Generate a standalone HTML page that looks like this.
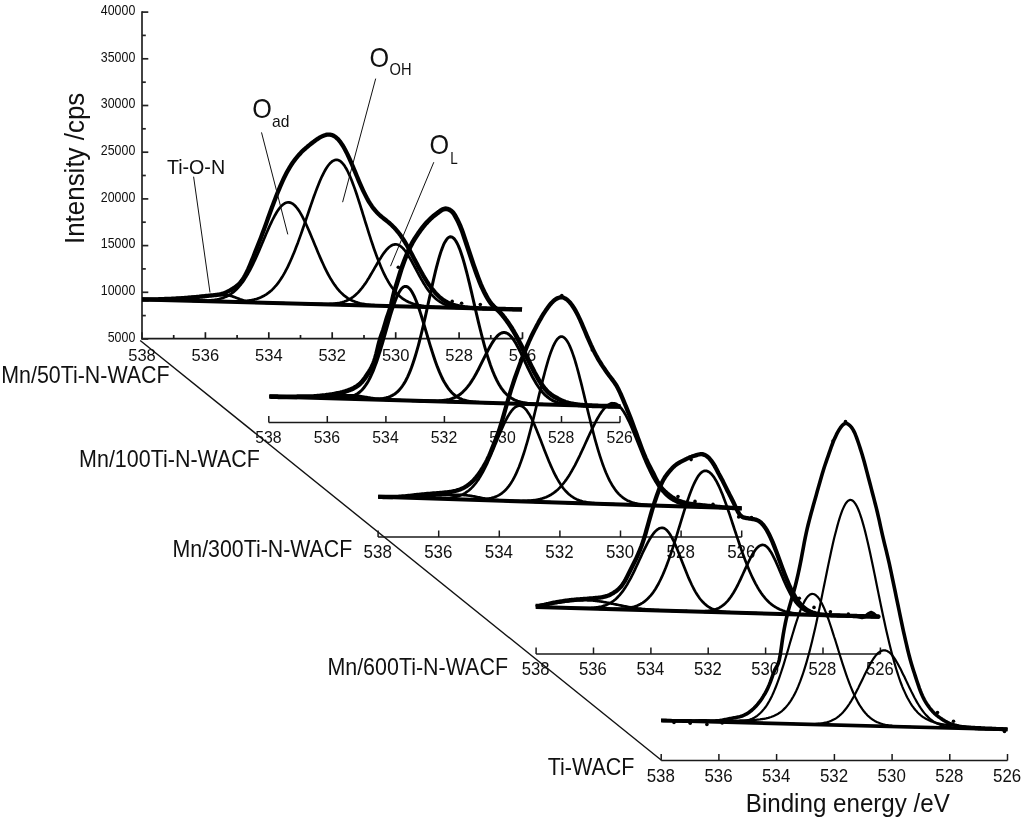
<!DOCTYPE html>
<html><head><meta charset="utf-8"><title>XPS O1s spectra</title>
<style>html,body{margin:0;padding:0;background:#fff}svg{display:block;will-change:transform}</style></head>
<body>
<svg width="1024" height="823" viewBox="0 0 1024 823">
<rect width="1024" height="823" fill="#fff"/>
<line x1="140.2" y1="340.5" x2="661.1" y2="760" stroke="#111" stroke-width="1.4"/>
<g stroke="#1a1a1a" stroke-width="1.70" fill="none">
<line x1="141.2" y1="338.7" x2="522.5" y2="338.7"/>
<line x1="142.0" y1="338.7" x2="142.0" y2="332.2"/>
<line x1="173.7" y1="338.7" x2="173.7" y2="335.0"/>
<line x1="205.4" y1="338.7" x2="205.4" y2="332.2"/>
<line x1="237.1" y1="338.7" x2="237.1" y2="335.0"/>
<line x1="268.8" y1="338.7" x2="268.8" y2="332.2"/>
<line x1="300.5" y1="338.7" x2="300.5" y2="335.0"/>
<line x1="332.2" y1="338.7" x2="332.2" y2="332.2"/>
<line x1="364.0" y1="338.7" x2="364.0" y2="335.0"/>
<line x1="395.7" y1="338.7" x2="395.7" y2="332.2"/>
<line x1="427.4" y1="338.7" x2="427.4" y2="335.0"/>
<line x1="459.1" y1="338.7" x2="459.1" y2="332.2"/>
<line x1="490.8" y1="338.7" x2="490.8" y2="335.0"/>
<line x1="522.5" y1="338.7" x2="522.5" y2="332.2"/>
</g>
<text x="142.0" y="360.5" font-size="17.1" text-anchor="middle" fill="#111" font-family="Liberation Sans, sans-serif" textLength="27.6" lengthAdjust="spacingAndGlyphs" >538</text>
<text x="205.4" y="360.5" font-size="17.1" text-anchor="middle" fill="#111" font-family="Liberation Sans, sans-serif" textLength="27.6" lengthAdjust="spacingAndGlyphs" >536</text>
<text x="268.8" y="360.5" font-size="17.1" text-anchor="middle" fill="#111" font-family="Liberation Sans, sans-serif" textLength="27.6" lengthAdjust="spacingAndGlyphs" >534</text>
<text x="332.2" y="360.5" font-size="17.1" text-anchor="middle" fill="#111" font-family="Liberation Sans, sans-serif" textLength="27.6" lengthAdjust="spacingAndGlyphs" >532</text>
<text x="395.7" y="360.5" font-size="17.1" text-anchor="middle" fill="#111" font-family="Liberation Sans, sans-serif" textLength="27.6" lengthAdjust="spacingAndGlyphs" >530</text>
<text x="459.1" y="360.5" font-size="17.1" text-anchor="middle" fill="#111" font-family="Liberation Sans, sans-serif" textLength="27.6" lengthAdjust="spacingAndGlyphs" >528</text>
<text x="522.5" y="360.5" font-size="17.1" text-anchor="middle" fill="#111" font-family="Liberation Sans, sans-serif" textLength="27.6" lengthAdjust="spacingAndGlyphs" >526</text>
<g stroke="#1a1a1a" stroke-width="1.50" fill="none">
<line x1="268.8" y1="422.5" x2="620.0" y2="422.5"/>
<line x1="268.8" y1="422.5" x2="268.8" y2="416.0"/>
<line x1="327.3" y1="422.5" x2="327.3" y2="416.0"/>
<line x1="385.9" y1="422.5" x2="385.9" y2="416.0"/>
<line x1="444.4" y1="422.5" x2="444.4" y2="416.0"/>
<line x1="502.9" y1="422.5" x2="502.9" y2="416.0"/>
<line x1="561.5" y1="422.5" x2="561.5" y2="416.0"/>
<line x1="620.0" y1="422.5" x2="620.0" y2="416.0"/>
</g>
<text x="268.4" y="442.5" font-size="16.5" text-anchor="middle" fill="#111" font-family="Liberation Sans, sans-serif" textLength="26.4" lengthAdjust="spacingAndGlyphs" >538</text>
<text x="326.9" y="442.5" font-size="16.5" text-anchor="middle" fill="#111" font-family="Liberation Sans, sans-serif" textLength="26.4" lengthAdjust="spacingAndGlyphs" >536</text>
<text x="385.5" y="442.5" font-size="16.5" text-anchor="middle" fill="#111" font-family="Liberation Sans, sans-serif" textLength="26.4" lengthAdjust="spacingAndGlyphs" >534</text>
<text x="444.0" y="442.5" font-size="16.5" text-anchor="middle" fill="#111" font-family="Liberation Sans, sans-serif" textLength="26.4" lengthAdjust="spacingAndGlyphs" >532</text>
<text x="502.5" y="442.5" font-size="16.5" text-anchor="middle" fill="#111" font-family="Liberation Sans, sans-serif" textLength="26.4" lengthAdjust="spacingAndGlyphs" >530</text>
<text x="561.1" y="442.5" font-size="16.5" text-anchor="middle" fill="#111" font-family="Liberation Sans, sans-serif" textLength="26.4" lengthAdjust="spacingAndGlyphs" >528</text>
<text x="619.6" y="442.5" font-size="16.5" text-anchor="middle" fill="#111" font-family="Liberation Sans, sans-serif" textLength="26.4" lengthAdjust="spacingAndGlyphs" >526</text>
<g stroke="#1a1a1a" stroke-width="1.50" fill="none">
<line x1="378.1" y1="537.0" x2="741.7" y2="537.0"/>
<line x1="378.1" y1="537.0" x2="378.1" y2="530.5"/>
<line x1="438.7" y1="537.0" x2="438.7" y2="530.5"/>
<line x1="499.3" y1="537.0" x2="499.3" y2="530.5"/>
<line x1="559.9" y1="537.0" x2="559.9" y2="530.5"/>
<line x1="620.5" y1="537.0" x2="620.5" y2="530.5"/>
<line x1="681.1" y1="537.0" x2="681.1" y2="530.5"/>
<line x1="741.7" y1="537.0" x2="741.7" y2="530.5"/>
</g>
<text x="377.7" y="558.1" font-size="17.7" text-anchor="middle" fill="#111" font-family="Liberation Sans, sans-serif" textLength="28.3" lengthAdjust="spacingAndGlyphs" >538</text>
<text x="438.3" y="558.1" font-size="17.7" text-anchor="middle" fill="#111" font-family="Liberation Sans, sans-serif" textLength="28.3" lengthAdjust="spacingAndGlyphs" >536</text>
<text x="498.9" y="558.1" font-size="17.7" text-anchor="middle" fill="#111" font-family="Liberation Sans, sans-serif" textLength="28.3" lengthAdjust="spacingAndGlyphs" >534</text>
<text x="559.5" y="558.1" font-size="17.7" text-anchor="middle" fill="#111" font-family="Liberation Sans, sans-serif" textLength="28.3" lengthAdjust="spacingAndGlyphs" >532</text>
<text x="620.1" y="558.1" font-size="17.7" text-anchor="middle" fill="#111" font-family="Liberation Sans, sans-serif" textLength="28.3" lengthAdjust="spacingAndGlyphs" >530</text>
<text x="680.7" y="558.1" font-size="17.7" text-anchor="middle" fill="#111" font-family="Liberation Sans, sans-serif" textLength="28.3" lengthAdjust="spacingAndGlyphs" >528</text>
<text x="741.3" y="558.1" font-size="17.7" text-anchor="middle" fill="#111" font-family="Liberation Sans, sans-serif" textLength="28.3" lengthAdjust="spacingAndGlyphs" >526</text>
<g stroke="#1a1a1a" stroke-width="1.50" fill="none">
<line x1="536.1" y1="654.0" x2="880.4" y2="654.0"/>
<line x1="536.1" y1="654.0" x2="536.1" y2="647.5"/>
<line x1="593.5" y1="654.0" x2="593.5" y2="647.5"/>
<line x1="650.9" y1="654.0" x2="650.9" y2="647.5"/>
<line x1="708.2" y1="654.0" x2="708.2" y2="647.5"/>
<line x1="765.6" y1="654.0" x2="765.6" y2="647.5"/>
<line x1="823.0" y1="654.0" x2="823.0" y2="647.5"/>
<line x1="880.4" y1="654.0" x2="880.4" y2="647.5"/>
</g>
<text x="535.6" y="674.9" font-size="17.7" text-anchor="middle" fill="#111" font-family="Liberation Sans, sans-serif" textLength="27.8" lengthAdjust="spacingAndGlyphs" >538</text>
<text x="593.0" y="674.9" font-size="17.7" text-anchor="middle" fill="#111" font-family="Liberation Sans, sans-serif" textLength="27.8" lengthAdjust="spacingAndGlyphs" >536</text>
<text x="650.4" y="674.9" font-size="17.7" text-anchor="middle" fill="#111" font-family="Liberation Sans, sans-serif" textLength="27.8" lengthAdjust="spacingAndGlyphs" >534</text>
<text x="707.8" y="674.9" font-size="17.7" text-anchor="middle" fill="#111" font-family="Liberation Sans, sans-serif" textLength="27.8" lengthAdjust="spacingAndGlyphs" >532</text>
<text x="765.1" y="674.9" font-size="17.7" text-anchor="middle" fill="#111" font-family="Liberation Sans, sans-serif" textLength="27.8" lengthAdjust="spacingAndGlyphs" >530</text>
<text x="822.5" y="674.9" font-size="17.7" text-anchor="middle" fill="#111" font-family="Liberation Sans, sans-serif" textLength="27.8" lengthAdjust="spacingAndGlyphs" >528</text>
<text x="879.9" y="674.9" font-size="17.7" text-anchor="middle" fill="#111" font-family="Liberation Sans, sans-serif" textLength="27.8" lengthAdjust="spacingAndGlyphs" >526</text>
<g stroke="#1a1a1a" stroke-width="1.50" fill="none">
<line x1="661.2" y1="760.5" x2="1007.5" y2="760.5"/>
<line x1="661.2" y1="760.5" x2="661.2" y2="754.0"/>
<line x1="718.9" y1="760.5" x2="718.9" y2="754.0"/>
<line x1="776.6" y1="760.5" x2="776.6" y2="754.0"/>
<line x1="834.4" y1="760.5" x2="834.4" y2="754.0"/>
<line x1="892.1" y1="760.5" x2="892.1" y2="754.0"/>
<line x1="949.8" y1="760.5" x2="949.8" y2="754.0"/>
<line x1="1007.5" y1="760.5" x2="1007.5" y2="754.0"/>
</g>
<text x="660.8" y="781.6" font-size="17.9" text-anchor="middle" fill="#111" font-family="Liberation Sans, sans-serif" textLength="28.2" lengthAdjust="spacingAndGlyphs" >538</text>
<text x="718.5" y="781.6" font-size="17.9" text-anchor="middle" fill="#111" font-family="Liberation Sans, sans-serif" textLength="28.2" lengthAdjust="spacingAndGlyphs" >536</text>
<text x="776.2" y="781.6" font-size="17.9" text-anchor="middle" fill="#111" font-family="Liberation Sans, sans-serif" textLength="28.2" lengthAdjust="spacingAndGlyphs" >534</text>
<text x="834.0" y="781.6" font-size="17.9" text-anchor="middle" fill="#111" font-family="Liberation Sans, sans-serif" textLength="28.2" lengthAdjust="spacingAndGlyphs" >532</text>
<text x="891.7" y="781.6" font-size="17.9" text-anchor="middle" fill="#111" font-family="Liberation Sans, sans-serif" textLength="28.2" lengthAdjust="spacingAndGlyphs" >530</text>
<text x="949.4" y="781.6" font-size="17.9" text-anchor="middle" fill="#111" font-family="Liberation Sans, sans-serif" textLength="28.2" lengthAdjust="spacingAndGlyphs" >528</text>
<text x="1007.1" y="781.6" font-size="17.9" text-anchor="middle" fill="#111" font-family="Liberation Sans, sans-serif" textLength="28.2" lengthAdjust="spacingAndGlyphs" >526</text>
<g stroke="#222" stroke-width="1.7" fill="none">
<line x1="142" y1="11.3" x2="142" y2="339.5"/>
<line x1="142" y1="339.0" x2="148.3" y2="339.0"/>
<line x1="142" y1="315.6" x2="145.8" y2="315.6"/>
<line x1="142" y1="292.3" x2="148.3" y2="292.3"/>
<line x1="142" y1="268.9" x2="145.8" y2="268.9"/>
<line x1="142" y1="245.6" x2="148.3" y2="245.6"/>
<line x1="142" y1="222.2" x2="145.8" y2="222.2"/>
<line x1="142" y1="198.9" x2="148.3" y2="198.9"/>
<line x1="142" y1="175.5" x2="145.8" y2="175.5"/>
<line x1="142" y1="152.2" x2="148.3" y2="152.2"/>
<line x1="142" y1="128.8" x2="145.8" y2="128.8"/>
<line x1="142" y1="105.5" x2="148.3" y2="105.5"/>
<line x1="142" y1="82.2" x2="145.8" y2="82.2"/>
<line x1="142" y1="58.8" x2="148.3" y2="58.8"/>
<line x1="142" y1="35.4" x2="145.8" y2="35.4"/>
<line x1="142" y1="12.1" x2="148.3" y2="12.1"/>
</g>
<text x="135.3" y="341.8" font-size="14.0" text-anchor="end" fill="#111" font-family="Liberation Sans, sans-serif" textLength="27.6" lengthAdjust="spacingAndGlyphs" >5000</text>
<text x="135.3" y="295.1" font-size="14.0" text-anchor="end" fill="#111" font-family="Liberation Sans, sans-serif" textLength="34.5" lengthAdjust="spacingAndGlyphs" >10000</text>
<text x="135.3" y="248.4" font-size="14.0" text-anchor="end" fill="#111" font-family="Liberation Sans, sans-serif" textLength="34.5" lengthAdjust="spacingAndGlyphs" >15000</text>
<text x="135.3" y="201.7" font-size="14.0" text-anchor="end" fill="#111" font-family="Liberation Sans, sans-serif" textLength="34.5" lengthAdjust="spacingAndGlyphs" >20000</text>
<text x="135.3" y="155.0" font-size="14.0" text-anchor="end" fill="#111" font-family="Liberation Sans, sans-serif" textLength="34.5" lengthAdjust="spacingAndGlyphs" >25000</text>
<text x="135.3" y="108.3" font-size="14.0" text-anchor="end" fill="#111" font-family="Liberation Sans, sans-serif" textLength="34.5" lengthAdjust="spacingAndGlyphs" >30000</text>
<text x="135.3" y="61.6" font-size="14.0" text-anchor="end" fill="#111" font-family="Liberation Sans, sans-serif" textLength="34.5" lengthAdjust="spacingAndGlyphs" >35000</text>
<text x="135.3" y="14.9" font-size="14.0" text-anchor="end" fill="#111" font-family="Liberation Sans, sans-serif" textLength="34.5" lengthAdjust="spacingAndGlyphs" >40000</text>
<g fill="none" stroke="#000" stroke-linejoin="round" stroke-linecap="butt">
<path d="M142.0,299.5 L522.0,309.5" stroke-width="4.00"/>
<path d="M182.0,300.5 L183.0,300.6 L184.0,300.6 L185.0,300.6 L186.0,300.6 L187.0,300.6 L188.0,300.7 L189.0,300.7 L190.0,300.7 L191.0,300.7 L192.0,300.7 L193.0,300.8 L194.0,300.8 L195.0,300.8 L196.0,300.8 L197.0,300.8 L198.0,300.8 L199.0,300.8 L200.0,300.8 L201.0,300.8 L202.0,300.8 L203.0,300.7 L204.0,300.7 L205.0,300.7 L206.0,300.6 L207.0,300.6 L208.0,300.5 L209.0,300.5 L210.0,300.4 L211.0,300.3 L212.0,300.2 L213.0,300.1 L214.0,300.0 L215.0,299.8 L216.0,299.7 L217.0,299.5 L218.0,299.3 L219.0,299.1 L220.0,298.8 L221.0,298.5 L222.0,298.2 L223.0,297.9 L224.0,297.5 L225.0,297.1 L226.0,296.7 L227.0,296.2 L228.0,295.7 L229.0,295.2 L230.0,294.5 L231.0,293.9 L232.0,293.2 L233.0,292.4 L234.0,291.6 L235.0,290.8 L236.0,289.8 L237.0,288.9 L238.0,287.8 L239.0,286.7 L240.0,285.5 L241.0,284.3 L242.0,283.0 L243.0,281.6 L244.0,280.2 L245.0,278.6 L246.0,277.1 L247.0,275.4 L248.0,273.7 L249.0,271.9 L250.0,270.0 L251.0,268.1 L252.0,266.1 L253.0,264.1 L254.0,262.0 L255.0,259.9 L256.0,257.7 L257.0,255.4 L258.0,253.2 L259.0,250.9 L260.0,248.5 L261.0,246.2 L262.0,243.8 L263.0,241.4 L264.0,239.0 L265.0,236.7 L266.0,234.3 L267.0,232.0 L268.0,229.7 L269.0,227.4 L270.0,225.2 L271.0,223.1 L272.0,221.0 L273.0,219.0 L274.0,217.1 L275.0,215.2 L276.0,213.5 L277.0,211.8 L278.0,210.3 L279.0,208.9 L280.0,207.6 L281.0,206.4 L282.0,205.4 L283.0,204.5 L284.0,203.8 L285.0,203.2 L286.0,202.8 L287.0,202.5 L288.0,202.4 L289.0,202.4 L290.0,202.6 L291.0,202.9 L292.0,203.4 L293.0,204.0 L294.0,204.8 L295.0,205.8 L296.0,206.8 L297.0,208.0 L298.0,209.4 L299.0,210.8 L300.0,212.4 L301.0,214.1 L302.0,215.9 L303.0,217.8 L304.0,219.8 L305.0,221.9 L306.0,224.0 L307.0,226.2 L308.0,228.5 L309.0,230.8 L310.0,233.1 L311.0,235.5 L312.0,237.9 L313.0,240.3 L314.0,242.8 L315.0,245.2 L316.0,247.6 L317.0,250.0 L318.0,252.4 L319.0,254.8 L320.0,257.1 L321.0,259.4 L322.0,261.6 L323.0,263.8 L324.0,266.0 L325.0,268.1 L326.0,270.1 L327.0,272.1 L328.0,274.0 L329.0,275.8 L330.0,277.6 L331.0,279.3 L332.0,280.9 L333.0,282.5 L334.0,284.0 L335.0,285.4 L336.0,286.8 L337.0,288.1 L338.0,289.3 L339.0,290.5 L340.0,291.6 L341.0,292.6 L342.0,293.6 L343.0,294.5 L344.0,295.4 L345.0,296.2 L346.0,296.9 L347.0,297.6 L348.0,298.3 L349.0,298.9 L350.0,299.5 L351.0,300.0 L352.0,300.5 L353.0,300.9 L354.0,301.3 L355.0,301.7 L356.0,302.1 L357.0,302.4 L358.0,302.7 L359.0,303.0 L360.0,303.3 L361.0,303.5 L362.0,303.7 L363.0,303.9 L364.0,304.1 L365.0,304.2 L366.0,304.4 L367.0,304.5 L368.0,304.7 L369.0,304.8 L370.0,304.9 L371.0,305.0 L372.0,305.1 L373.0,305.2 L374.0,305.2 L375.0,305.3 L376.0,305.4 L377.0,305.4 L378.0,305.5 L379.0,305.6 L380.0,305.6 L381.0,305.6 L382.0,305.7 L383.0,305.7 L384.0,305.8 L385.0,305.8 L386.0,305.9 L387.0,305.9 L388.0,305.9 L389.0,306.0 L390.0,306.0 L391.0,306.0 L392.0,306.1 L393.0,306.1 L394.0,306.1 L395.0,306.1" stroke-width="2.70"/>
<path d="M213.0,301.3 L214.0,301.4 L215.0,301.4 L216.0,301.4 L217.0,301.4 L218.0,301.5 L219.0,301.5 L220.0,301.5 L221.0,301.5 L222.0,301.5 L223.0,301.5 L224.0,301.6 L225.0,301.6 L226.0,301.6 L227.0,301.6 L228.0,301.6 L229.0,301.6 L230.0,301.6 L231.0,301.6 L232.0,301.6 L233.0,301.6 L234.0,301.6 L235.0,301.6 L236.0,301.5 L237.0,301.5 L238.0,301.5 L239.0,301.5 L240.0,301.4 L241.0,301.4 L242.0,301.3 L243.0,301.2 L244.0,301.1 L245.0,301.1 L246.0,301.0 L247.0,300.8 L248.0,300.7 L249.0,300.6 L250.0,300.4 L251.0,300.2 L252.0,300.0 L253.0,299.8 L254.0,299.6 L255.0,299.3 L256.0,299.1 L257.0,298.8 L258.0,298.4 L259.0,298.1 L260.0,297.7 L261.0,297.3 L262.0,296.8 L263.0,296.3 L264.0,295.8 L265.0,295.2 L266.0,294.6 L267.0,293.9 L268.0,293.2 L269.0,292.4 L270.0,291.6 L271.0,290.8 L272.0,289.9 L273.0,288.9 L274.0,287.8 L275.0,286.7 L276.0,285.6 L277.0,284.4 L278.0,283.1 L279.0,281.7 L280.0,280.3 L281.0,278.8 L282.0,277.2 L283.0,275.6 L284.0,273.9 L285.0,272.1 L286.0,270.2 L287.0,268.3 L288.0,266.3 L289.0,264.2 L290.0,262.0 L291.0,259.8 L292.0,257.5 L293.0,255.1 L294.0,252.7 L295.0,250.2 L296.0,247.6 L297.0,245.0 L298.0,242.4 L299.0,239.6 L300.0,236.9 L301.0,234.1 L302.0,231.2 L303.0,228.3 L304.0,225.4 L305.0,222.5 L306.0,219.6 L307.0,216.6 L308.0,213.7 L309.0,210.7 L310.0,207.8 L311.0,204.9 L312.0,202.0 L313.0,199.1 L314.0,196.3 L315.0,193.6 L316.0,190.9 L317.0,188.2 L318.0,185.7 L319.0,183.2 L320.0,180.8 L321.0,178.5 L322.0,176.3 L323.0,174.3 L324.0,172.3 L325.0,170.5 L326.0,168.8 L327.0,167.2 L328.0,165.8 L329.0,164.5 L330.0,163.3 L331.0,162.4 L332.0,161.5 L333.0,160.9 L334.0,160.4 L335.0,160.0 L336.0,159.8 L337.0,159.8 L338.0,160.0 L339.0,160.4 L340.0,161.0 L341.0,161.7 L342.0,162.7 L343.0,163.8 L344.0,165.1 L345.0,166.6 L346.0,168.2 L347.0,170.0 L348.0,172.0 L349.0,174.1 L350.0,176.4 L351.0,178.8 L352.0,181.3 L353.0,183.9 L354.0,186.6 L355.0,189.4 L356.0,192.3 L357.0,195.3 L358.0,198.4 L359.0,201.5 L360.0,204.6 L361.0,207.8 L362.0,211.0 L363.0,214.3 L364.0,217.5 L365.0,220.8 L366.0,224.0 L367.0,227.2 L368.0,230.4 L369.0,233.6 L370.0,236.7 L371.0,239.8 L372.0,242.8 L373.0,245.8 L374.0,248.7 L375.0,251.5 L376.0,254.3 L377.0,257.0 L378.0,259.6 L379.0,262.1 L380.0,264.6 L381.0,267.0 L382.0,269.3 L383.0,271.5 L384.0,273.6 L385.0,275.6 L386.0,277.6 L387.0,279.4 L388.0,281.2 L389.0,282.9 L390.0,284.5 L391.0,286.0 L392.0,287.5 L393.0,288.8 L394.0,290.1 L395.0,291.4 L396.0,292.5 L397.0,293.6 L398.0,294.6 L399.0,295.5 L400.0,296.4 L401.0,297.3 L402.0,298.1 L403.0,298.8 L404.0,299.5 L405.0,300.1 L406.0,300.7 L407.0,301.2 L408.0,301.7 L409.0,302.2 L410.0,302.6 L411.0,303.0 L412.0,303.4 L413.0,303.7 L414.0,304.0 L415.0,304.3 L416.0,304.6 L417.0,304.8 L418.0,305.0 L419.0,305.3 L420.0,305.4 L421.0,305.6 L422.0,305.8 L423.0,305.9 L424.0,306.0 L425.0,306.2 L426.0,306.3 L427.0,306.4 L428.0,306.5 L429.0,306.6 L430.0,306.7 L431.0,306.7 L432.0,306.8 L433.0,306.9 L434.0,306.9 L435.0,307.0 L436.0,307.0 L437.0,307.1 L438.0,307.1 L439.0,307.2 L440.0,307.2 L441.0,307.3 L442.0,307.3 L443.0,307.3 L444.0,307.4 L445.0,307.4 L446.0,307.5 L447.0,307.5 L448.0,307.5 L449.0,307.5 L450.0,307.6 L451.0,307.6 L452.0,307.6 L453.0,307.7 L454.0,307.7 L455.0,307.7 L456.0,307.8 L457.0,307.8 L458.0,307.8 L459.0,307.8 L460.0,307.9" stroke-width="2.70"/>
<path d="M307.0,303.8 L308.0,303.9 L309.0,303.9 L310.0,303.9 L311.0,303.9 L312.0,303.9 L313.0,304.0 L314.0,304.0 L315.0,304.0 L316.0,304.0 L317.0,304.0 L318.0,304.1 L319.0,304.1 L320.0,304.1 L321.0,304.1 L322.0,304.1 L323.0,304.1 L324.0,304.1 L325.0,304.1 L326.0,304.1 L327.0,304.0 L328.0,304.0 L329.0,304.0 L330.0,303.9 L331.0,303.9 L332.0,303.8 L333.0,303.8 L334.0,303.7 L335.0,303.6 L336.0,303.4 L337.0,303.3 L338.0,303.2 L339.0,303.0 L340.0,302.8 L341.0,302.5 L342.0,302.3 L343.0,302.0 L344.0,301.7 L345.0,301.3 L346.0,301.0 L347.0,300.5 L348.0,300.1 L349.0,299.5 L350.0,299.0 L351.0,298.4 L352.0,297.7 L353.0,297.0 L354.0,296.2 L355.0,295.4 L356.0,294.5 L357.0,293.6 L358.0,292.6 L359.0,291.5 L360.0,290.4 L361.0,289.2 L362.0,288.0 L363.0,286.6 L364.0,285.3 L365.0,283.9 L366.0,282.4 L367.0,280.9 L368.0,279.3 L369.0,277.7 L370.0,276.0 L371.0,274.3 L372.0,272.6 L373.0,270.9 L374.0,269.2 L375.0,267.4 L376.0,265.7 L377.0,264.0 L378.0,262.3 L379.0,260.6 L380.0,258.9 L381.0,257.4 L382.0,255.8 L383.0,254.3 L384.0,252.9 L385.0,251.6 L386.0,250.4 L387.0,249.2 L388.0,248.2 L389.0,247.3 L390.0,246.5 L391.0,245.8 L392.0,245.3 L393.0,244.8 L394.0,244.6 L395.0,244.4 L396.0,244.4 L397.0,244.5 L398.0,244.8 L399.0,245.2 L400.0,245.8 L401.0,246.5 L402.0,247.4 L403.0,248.4 L404.0,249.5 L405.0,250.8 L406.0,252.1 L407.0,253.6 L408.0,255.1 L409.0,256.7 L410.0,258.4 L411.0,260.1 L412.0,261.9 L413.0,263.8 L414.0,265.6 L415.0,267.5 L416.0,269.4 L417.0,271.3 L418.0,273.2 L419.0,275.0 L420.0,276.9 L421.0,278.7 L422.0,280.4 L423.0,282.2 L424.0,283.8 L425.0,285.4 L426.0,287.0 L427.0,288.5 L428.0,289.9 L429.0,291.3 L430.0,292.5 L431.0,293.8 L432.0,294.9 L433.0,296.0 L434.0,297.0 L435.0,298.0 L436.0,298.9 L437.0,299.7 L438.0,300.5 L439.0,301.2 L440.0,301.8 L441.0,302.4 L442.0,303.0 L443.0,303.5 L444.0,304.0 L445.0,304.4 L446.0,304.8 L447.0,305.1 L448.0,305.4 L449.0,305.7 L450.0,306.0 L451.0,306.2 L452.0,306.4 L453.0,306.6 L454.0,306.8 L455.0,306.9 L456.0,307.1 L457.0,307.2 L458.0,307.3 L459.0,307.4 L460.0,307.5 L461.0,307.6 L462.0,307.6 L463.0,307.7 L464.0,307.8 L465.0,307.8 L466.0,307.9 L467.0,307.9 L468.0,308.0 L469.0,308.0 L470.0,308.1 L471.0,308.1 L472.0,308.1 L473.0,308.2 L474.0,308.2 L475.0,308.2 L476.0,308.3 L477.0,308.3 L478.0,308.3 L479.0,308.4 L480.0,308.4 L481.0,308.4 L482.0,308.4 L483.0,308.5 L484.0,308.5" stroke-width="2.70"/>
<path d="M142.0,299.2 L143.0,299.2 L144.0,299.2 L145.0,299.2 L146.0,299.2 L147.0,299.2 L148.0,299.2 L149.0,299.2 L150.0,299.2 L151.0,299.2 L152.0,299.2 L153.0,299.1 L154.0,299.1 L155.0,299.1 L156.0,299.1 L157.0,299.1 L158.0,299.0 L159.0,299.0 L160.0,299.0 L161.0,299.0 L162.0,298.9 L163.0,298.9 L164.0,298.8 L165.0,298.8 L166.0,298.8 L167.0,298.7 L168.0,298.7 L169.0,298.6 L170.0,298.6 L171.0,298.5 L172.0,298.4 L173.0,298.4 L174.0,298.3 L175.0,298.3 L176.0,298.2 L177.0,298.1 L178.0,298.0 L179.0,298.0 L180.0,297.9 L181.0,297.8 L182.0,297.7 L183.0,297.7 L184.0,297.6 L185.0,297.5 L186.0,297.4 L187.0,297.3 L188.0,297.2 L189.0,297.1 L190.0,297.1 L191.0,297.0 L192.0,296.9 L193.0,296.8 L194.0,296.7 L195.0,296.6 L196.0,296.5 L197.0,296.4 L198.0,296.3 L199.0,296.3 L200.0,296.2 L201.0,296.1 L202.0,296.0 L203.0,295.9 L204.0,295.9 L205.0,295.8 L206.0,295.7 L207.0,295.7 L208.0,295.6 L209.0,295.5 L210.0,295.5 L211.0,295.4 L212.0,295.4 L213.0,295.3 L214.0,295.3 L215.0,295.3 L216.0,295.2 L217.0,295.2 L218.0,295.2 L219.0,295.2 L220.0,295.2 L221.0,295.1 L222.0,295.2 L223.0,295.2 L224.0,295.2 L225.0,295.2 L226.0,295.2 L227.0,295.3 L228.0,295.4 L229.0,295.5 L230.0,295.7 L231.0,296.0 L232.0,296.3 L233.0,296.6 L234.0,296.9 L235.0,297.3 L236.0,297.7 L237.0,298.1 L238.0,298.4 L239.0,298.8 L240.0,299.2 L241.0,299.5 L242.0,299.9 L243.0,300.2 L244.0,300.5 L245.0,300.7 L246.0,301.0 L247.0,301.2 L248.0,301.4 L249.0,301.6 L250.0,301.7 L251.0,301.9 L252.0,302.0 L253.0,302.1 L254.0,302.2 L255.0,302.3 L256.0,302.3 L257.0,302.4 L258.0,302.5 L259.0,302.5 L260.0,302.6 L261.0,302.6 L262.0,302.6 L263.0,302.7 L264.0,302.7 L265.0,302.7 L266.0,302.8 L267.0,302.8 L268.0,302.8 L269.0,302.8 L270.0,302.9 L271.0,302.9 L272.0,302.9 L273.0,302.9 L274.0,303.0 L275.0,303.0 L276.0,303.0 L277.0,303.1 L278.0,303.1 L279.0,303.1 L280.0,303.1 L281.0,303.2 L282.0,303.2 L283.0,303.2 L284.0,303.2 L285.0,303.3 L286.0,303.3 L287.0,303.3 L288.0,303.3 L289.0,303.4 L290.0,303.4 L291.0,303.4 L292.0,303.4 L293.0,303.5 L294.0,303.5 L295.0,303.5 L296.0,303.6 L297.0,303.6 L298.0,303.6 L299.0,303.6 L300.0,303.7 L301.0,303.7 L302.0,303.7 L303.0,303.7 L304.0,303.8 L305.0,303.8 L306.0,303.8 L307.0,303.8 L308.0,303.9 L309.0,303.9 L310.0,303.9 L311.0,303.9 L312.0,304.0 L313.0,304.0 L314.0,304.0 L315.0,304.1 L316.0,304.1 L317.0,304.1 L318.0,304.1 L319.0,304.2 L320.0,304.2 L321.0,304.2 L322.0,304.2 L323.0,304.3 L324.0,304.3 L325.0,304.3 L326.0,304.3 L327.0,304.4 L328.0,304.4 L329.0,304.4 L330.0,304.4 L331.0,304.5 L332.0,304.5 L333.0,304.5 L334.0,304.6 L335.0,304.6 L336.0,304.6 L337.0,304.6 L338.0,304.7 L339.0,304.7 L340.0,304.7 L341.0,304.7 L342.0,304.8 L343.0,304.8 L344.0,304.8 L345.0,304.8 L346.0,304.9 L347.0,304.9 L348.0,304.9 L349.0,304.9 L350.0,305.0 L351.0,305.0 L352.0,305.0 L353.0,305.1 L354.0,305.1 L355.0,305.1 L356.0,305.1 L357.0,305.2 L358.0,305.2 L359.0,305.2 L360.0,305.2 L361.0,305.3 L362.0,305.3 L363.0,305.3 L364.0,305.3 L365.0,305.4 L366.0,305.4 L367.0,305.4 L368.0,305.4" stroke-width="2.70"/>
<path d="M142.0,299.5 L143.0,299.5 L144.0,299.5 L145.0,299.5 L146.0,299.5 L147.0,299.5 L148.0,299.5 L149.0,299.4 L150.0,299.4 L151.0,299.4 L152.0,299.4 L153.0,299.4 L154.0,299.4 L155.0,299.3 L156.0,299.3 L157.0,299.3 L158.0,299.3 L159.0,299.2 L160.0,299.2 L161.0,299.2 L162.0,299.1 L163.0,299.1 L164.0,299.1 L165.0,299.0 L166.0,299.0 L167.0,299.0 L168.0,298.9 L169.0,298.9 L170.0,298.8 L171.0,298.8 L172.0,298.7 L173.0,298.7 L174.0,298.6 L175.0,298.6 L176.0,298.6 L177.0,298.5 L178.0,298.4 L179.0,298.4 L180.0,298.3 L181.0,298.3 L182.0,298.2 L183.0,298.2 L184.0,298.1 L185.0,298.0 L186.0,298.0 L187.0,297.9 L188.0,297.8 L189.0,297.7 L190.0,297.7 L191.0,297.6 L192.0,297.5 L193.0,297.4 L194.0,297.3 L195.0,297.2 L196.0,297.1 L197.0,297.0 L198.0,296.9 L199.0,296.8 L200.0,296.7 L201.0,296.6 L202.0,296.5 L203.0,296.4 L204.0,296.3 L205.0,296.1 L206.0,296.0 L207.0,295.9 L208.0,295.8 L209.0,295.7 L210.0,295.6 L211.0,295.5 L212.0,295.4 L213.0,295.3 L214.0,295.2 L215.0,295.1 L216.0,295.0 L217.0,294.9 L218.0,294.7 L219.0,294.5 L220.0,294.3 L221.0,294.1 L222.0,293.8 L223.0,293.5 L224.0,293.2 L225.0,292.8 L226.0,292.4 L227.0,291.9 L228.0,291.4 L229.0,290.9 L230.0,290.4 L231.0,289.8 L232.0,289.2 L233.0,288.5 L234.0,287.9 L235.0,287.2 L236.0,286.5 L237.0,285.7 L238.0,284.9 L239.0,283.9 L240.0,282.9 L241.0,281.7 L242.0,280.4 L243.0,278.9 L244.0,277.4 L245.0,275.6 L246.0,273.7 L247.0,271.7 L248.0,269.6 L249.0,267.3 L250.0,265.0 L251.0,262.6 L252.0,260.2 L253.0,257.7 L254.0,255.2 L255.0,252.6 L256.0,250.1 L257.0,247.6 L258.0,245.1 L259.0,242.5 L260.0,240.0 L261.0,237.4 L262.0,234.8 L263.0,232.1 L264.0,229.4 L265.0,226.6 L266.0,223.9 L267.0,221.1 L268.0,218.3 L269.0,215.5 L270.0,212.8 L271.0,210.0 L272.0,207.3 L273.0,204.7 L274.0,202.0 L275.0,199.4 L276.0,196.8 L277.0,194.2 L278.0,191.7 L279.0,189.3 L280.0,186.9 L281.0,184.6 L282.0,182.3 L283.0,180.1 L284.0,178.0 L285.0,176.0 L286.0,174.0 L287.0,172.1 L288.0,170.3 L289.0,168.6 L290.0,166.9 L291.0,165.3 L292.0,163.8 L293.0,162.3 L294.0,160.9 L295.0,159.6 L296.0,158.3 L297.0,157.1 L298.0,155.9 L299.0,154.8 L300.0,153.7 L301.0,152.6 L302.0,151.6 L303.0,150.6 L304.0,149.7 L305.0,148.8 L306.0,147.9 L307.0,147.1 L308.0,146.2 L309.0,145.4 L310.0,144.6 L311.0,143.8 L312.0,143.0 L313.0,142.2 L314.0,141.5 L315.0,140.7 L316.0,140.0 L317.0,139.3 L318.0,138.7 L319.0,138.0 L320.0,137.4 L321.0,136.9 L322.0,136.4 L323.0,135.9 L324.0,135.5 L325.0,135.2 L326.0,134.9 L327.0,134.7 L328.0,134.6 L329.0,134.6 L330.0,134.6 L331.0,134.8 L332.0,135.1 L333.0,135.5 L334.0,136.0 L335.0,136.6 L336.0,137.4 L337.0,138.3 L338.0,139.2 L339.0,140.4 L340.0,141.6 L341.0,143.0 L342.0,144.4 L343.0,146.0 L344.0,147.7 L345.0,149.5 L346.0,151.4 L347.0,153.4 L348.0,155.5 L349.0,157.6 L350.0,159.9 L351.0,162.2 L352.0,164.5 L353.0,166.9 L354.0,169.3 L355.0,171.7 L356.0,174.1 L357.0,176.5 L358.0,178.9 L359.0,181.3 L360.0,183.6 L361.0,185.9 L362.0,188.1 L363.0,190.3 L364.0,192.4 L365.0,194.4 L366.0,196.4 L367.0,198.3 L368.0,200.1 L369.0,201.8 L370.0,203.4 L371.0,204.9 L372.0,206.4 L373.0,207.8 L374.0,209.0 L375.0,210.3 L376.0,211.4 L377.0,212.5 L378.0,213.5 L379.0,214.5 L380.0,215.4 L381.0,216.3 L382.0,217.1 L383.0,217.9 L384.0,218.7 L385.0,219.5 L386.0,220.3 L387.0,221.1 L388.0,221.9 L389.0,222.7 L390.0,223.6 L391.0,224.5 L392.0,225.4 L393.0,226.4 L394.0,227.4 L395.0,228.5 L396.0,229.6 L397.0,230.8 L398.0,232.0 L399.0,233.3 L400.0,234.6 L401.0,236.0 L402.0,237.5 L403.0,239.0 L404.0,240.5 L405.0,242.1 L406.0,243.8 L407.0,245.5 L408.0,247.3 L409.0,249.1 L410.0,250.9 L411.0,252.7 L412.0,254.6 L413.0,256.5 L414.0,258.4 L415.0,260.3 L416.0,262.2 L417.0,264.1 L418.0,266.0 L419.0,267.9 L420.0,269.7 L421.0,271.5 L422.0,273.3 L423.0,275.1 L424.0,276.8 L425.0,278.5 L426.0,280.1 L427.0,281.7 L428.0,283.2 L429.0,284.7 L430.0,286.1 L431.0,287.5 L432.0,288.8 L433.0,290.0 L434.0,291.2 L435.0,292.4 L436.0,293.5 L437.0,294.5 L438.0,295.5 L439.0,296.5 L440.0,297.4 L441.0,298.2 L442.0,299.0 L443.0,299.7 L444.0,300.4 L445.0,301.0 L446.0,301.6 L447.0,302.2 L448.0,302.7 L449.0,303.2 L450.0,303.6 L451.0,304.0 L452.0,304.4 L453.0,304.8 L454.0,305.1 L455.0,305.4 L456.0,305.7 L457.0,305.9 L458.0,306.1 L459.0,306.3 L460.0,306.5 L461.0,306.7 L462.0,306.8 L463.0,307.0 L464.0,307.1 L465.0,307.3 L466.0,307.4 L467.0,307.5 L468.0,307.6 L469.0,307.7 L470.0,307.8 L471.0,307.8 L472.0,307.9 L473.0,308.0 L474.0,308.0 L475.0,308.1 L476.0,308.1 L477.0,308.1 L478.0,308.2 L479.0,308.3 L480.0,308.3 L481.0,308.4 L482.0,308.4 L483.0,308.5 L484.0,308.5 L485.0,308.5 L486.0,308.5 L487.0,308.6 L488.0,308.6 L489.0,308.6 L490.0,308.6 L491.0,308.6 L492.0,308.7 L493.0,308.7 L494.0,308.7 L495.0,308.8 L496.0,308.8 L497.0,308.8 L498.0,308.9 L499.0,308.9 L500.0,308.9 L501.0,308.9 L502.0,309.0 L503.0,309.0 L504.0,309.0 L505.0,309.0 L506.0,309.1 L507.0,309.1 L508.0,309.1 L509.0,309.1 L510.0,309.2 L511.0,309.2 L512.0,309.2 L513.0,309.3 L514.0,309.3 L515.0,309.3 L516.0,309.3 L517.0,309.3 L518.0,309.3 L519.0,309.4 L520.0,309.4 L521.0,309.4 L522.0,309.5" stroke-width="4.30"/>
</g>
<circle cx="452.2" cy="301.4" r="1.8" fill="#000"/>
<circle cx="461.6" cy="303.2" r="1.8" fill="#000"/>
<circle cx="480.3" cy="304.6" r="1.8" fill="#000"/>
<circle cx="418.5" cy="268.0" r="1.8" fill="#000"/>
<g fill="none" stroke="#000" stroke-linejoin="round" stroke-linecap="butt">
<path d="M269.4,396.6 L620.5,406.6" stroke-width="4.00"/>
<path d="M319.4,398.0 L320.4,398.0 L321.4,398.1 L322.4,398.1 L323.4,398.1 L324.4,398.1 L325.4,398.2 L326.4,398.2 L327.4,398.2 L328.4,398.2 L329.4,398.3 L330.4,398.3 L331.4,398.3 L332.4,398.3 L333.4,398.3 L334.4,398.3 L335.4,398.3 L336.4,398.3 L337.4,398.3 L338.4,398.3 L339.4,398.2 L340.4,398.2 L341.4,398.1 L342.4,398.1 L343.4,398.0 L344.4,397.9 L345.4,397.8 L346.4,397.7 L347.4,397.5 L348.4,397.3 L349.4,397.1 L350.4,396.8 L351.4,396.5 L352.4,396.2 L353.4,395.8 L354.4,395.4 L355.4,394.9 L356.4,394.3 L357.4,393.7 L358.4,393.0 L359.4,392.3 L360.4,391.4 L361.4,390.5 L362.4,389.4 L363.4,388.3 L364.4,387.0 L365.4,385.7 L366.4,384.2 L367.4,382.6 L368.4,380.9 L369.4,379.0 L370.4,377.0 L371.4,374.9 L372.4,372.7 L373.4,370.3 L374.4,367.8 L375.4,365.1 L376.4,362.4 L377.4,359.5 L378.4,356.5 L379.4,353.4 L380.4,350.2 L381.4,346.9 L382.4,343.5 L383.4,340.1 L384.4,336.6 L385.4,333.1 L386.4,329.5 L387.4,326.0 L388.4,322.5 L389.4,319.1 L390.4,315.7 L391.4,312.4 L392.4,309.3 L393.4,306.2 L394.4,303.3 L395.4,300.6 L396.4,298.0 L397.4,295.7 L398.4,293.6 L399.4,291.8 L400.4,290.2 L401.4,288.8 L402.4,287.8 L403.4,287.0 L404.4,286.5 L405.4,286.4 L406.4,286.5 L407.4,286.9 L408.4,287.5 L409.4,288.5 L410.4,289.6 L411.4,291.0 L412.4,292.7 L413.4,294.6 L414.4,296.7 L415.4,299.0 L416.4,301.4 L417.4,304.1 L418.4,306.9 L419.4,309.8 L420.4,312.9 L421.4,316.0 L422.4,319.3 L423.4,322.6 L424.4,325.9 L425.4,329.3 L426.4,332.7 L427.4,336.1 L428.4,339.4 L429.4,342.8 L430.4,346.1 L431.4,349.3 L432.4,352.4 L433.4,355.5 L434.4,358.5 L435.4,361.4 L436.4,364.2 L437.4,366.9 L438.4,369.4 L439.4,371.9 L440.4,374.2 L441.4,376.4 L442.4,378.5 L443.4,380.5 L444.4,382.3 L445.5,384.0 L446.5,385.7 L447.5,387.2 L448.5,388.6 L449.5,389.9 L450.5,391.1 L451.5,392.2 L452.5,393.2 L453.5,394.2 L454.5,395.0 L455.5,395.8 L456.5,396.5 L457.5,397.2 L458.5,397.7 L459.5,398.3 L460.5,398.7 L461.5,399.2 L462.5,399.6 L463.5,399.9 L464.5,400.2 L465.5,400.5 L466.5,400.8 L467.5,401.0 L468.5,401.2 L469.5,401.4 L470.5,401.5 L471.5,401.7 L472.5,401.8 L473.5,401.9 L474.5,402.0 L475.5,402.1 L476.5,402.2 L477.5,402.3 L478.5,402.3 L479.5,402.4 L480.5,402.5 L481.5,402.5 L482.5,402.6 L483.5,402.6 L484.5,402.7 L485.5,402.7 L486.5,402.7 L487.5,402.8 L488.5,402.8 L489.5,402.8 L490.5,402.9 L491.5,402.9" stroke-width="3.00"/>
<path d="M353.4,399.0 L354.4,399.0 L355.4,399.0 L356.4,399.1 L357.4,399.1 L358.4,399.1 L359.4,399.1 L360.4,399.2 L361.4,399.2 L362.4,399.2 L363.4,399.2 L364.4,399.2 L365.4,399.3 L366.4,399.3 L367.4,399.3 L368.4,399.3 L369.4,399.3 L370.4,399.3 L371.4,399.3 L372.4,399.3 L373.4,399.2 L374.4,399.2 L375.4,399.2 L376.4,399.1 L377.4,399.1 L378.4,399.0 L379.4,398.9 L380.4,398.8 L381.4,398.7 L382.4,398.6 L383.4,398.4 L384.4,398.2 L385.4,398.0 L386.4,397.8 L387.4,397.5 L388.4,397.2 L389.4,396.8 L390.4,396.4 L391.4,395.9 L392.4,395.4 L393.4,394.8 L394.4,394.2 L395.4,393.5 L396.4,392.7 L397.4,391.8 L398.4,390.9 L399.4,389.8 L400.4,388.6 L401.4,387.4 L402.4,386.0 L403.4,384.5 L404.4,382.9 L405.4,381.2 L406.4,379.3 L407.4,377.3 L408.4,375.1 L409.4,372.8 L410.4,370.4 L411.4,367.8 L412.4,365.0 L413.4,362.1 L414.4,359.0 L415.4,355.8 L416.4,352.4 L417.4,348.9 L418.4,345.3 L419.4,341.5 L420.4,337.5 L421.4,333.5 L422.4,329.3 L423.4,325.0 L424.4,320.7 L425.4,316.3 L426.4,311.8 L427.4,307.2 L428.4,302.7 L429.4,298.1 L430.4,293.6 L431.4,289.1 L432.4,284.6 L433.4,280.2 L434.4,275.9 L435.4,271.7 L436.4,267.7 L437.4,263.8 L438.4,260.2 L439.4,256.7 L440.4,253.4 L441.4,250.4 L442.4,247.7 L443.4,245.2 L444.4,243.0 L445.5,241.2 L446.5,239.6 L447.5,238.4 L448.5,237.5 L449.5,237.0 L450.5,236.8 L451.5,236.9 L452.5,237.3 L453.5,238.1 L454.5,239.1 L455.5,240.5 L456.5,242.1 L457.5,244.0 L458.5,246.2 L459.5,248.6 L460.5,251.3 L461.5,254.2 L462.5,257.3 L463.5,260.6 L464.5,264.1 L465.5,267.8 L466.5,271.6 L467.5,275.5 L468.5,279.6 L469.5,283.7 L470.5,287.9 L471.5,292.2 L472.5,296.5 L473.5,300.9 L474.5,305.2 L475.5,309.5 L476.5,313.8 L477.5,318.1 L478.5,322.3 L479.5,326.5 L480.5,330.5 L481.5,334.5 L482.5,338.4 L483.5,342.2 L484.5,345.9 L485.5,349.4 L486.5,352.8 L487.5,356.1 L488.5,359.3 L489.5,362.3 L490.5,365.2 L491.5,367.9 L492.5,370.6 L493.5,373.0 L494.5,375.4 L495.5,377.6 L496.5,379.7 L497.5,381.6 L498.5,383.5 L499.5,385.2 L500.5,386.8 L501.5,388.3 L502.5,389.7 L503.5,391.0 L504.5,392.2 L505.5,393.3 L506.5,394.3 L507.5,395.2 L508.5,396.1 L509.5,396.8 L510.5,397.6 L511.5,398.2 L512.5,398.8 L513.5,399.4 L514.5,399.9 L515.5,400.3 L516.5,400.7 L517.5,401.1 L518.5,401.4 L519.5,401.7 L520.5,402.0 L521.5,402.2 L522.5,402.4 L523.5,402.6 L524.5,402.8 L525.5,403.0 L526.5,403.1 L527.5,403.3 L528.5,403.4 L529.5,403.5 L530.5,403.6 L531.5,403.7 L532.5,403.8 L533.5,403.8 L534.5,403.9 L535.5,404.0 L536.5,404.0 L537.5,404.1 L538.5,404.1 L539.5,404.2 L540.5,404.2 L541.5,404.3 L542.5,404.3 L543.5,404.4 L544.5,404.4 L545.5,404.4 L546.5,404.5 L547.5,404.5" stroke-width="3.00"/>
<path d="M416.4,400.8 L417.4,400.8 L418.4,400.8 L419.4,400.9 L420.4,400.9 L421.4,400.9 L422.4,400.9 L423.4,400.9 L424.4,401.0 L425.4,401.0 L426.4,401.0 L427.4,401.0 L428.4,401.0 L429.4,401.0 L430.4,401.0 L431.4,401.0 L432.4,401.0 L433.4,401.0 L434.4,401.0 L435.4,401.0 L436.4,401.0 L437.4,400.9 L438.4,400.9 L439.4,400.8 L440.4,400.8 L441.4,400.7 L442.4,400.6 L443.4,400.5 L444.4,400.3 L445.5,400.2 L446.5,400.0 L447.5,399.8 L448.5,399.6 L449.5,399.4 L450.5,399.1 L451.5,398.8 L452.5,398.4 L453.5,398.0 L454.5,397.6 L455.5,397.1 L456.5,396.6 L457.5,396.0 L458.5,395.4 L459.5,394.7 L460.5,394.0 L461.5,393.2 L462.5,392.3 L463.5,391.3 L464.5,390.3 L465.5,389.3 L466.5,388.1 L467.5,386.9 L468.5,385.6 L469.5,384.3 L470.5,382.9 L471.5,381.4 L472.5,379.8 L473.5,378.2 L474.5,376.5 L475.5,374.7 L476.5,372.9 L477.5,371.1 L478.5,369.2 L479.5,367.2 L480.5,365.2 L481.5,363.2 L482.5,361.2 L483.5,359.2 L484.5,357.2 L485.5,355.2 L486.5,353.2 L487.5,351.3 L488.5,349.4 L489.5,347.5 L490.5,345.7 L491.5,344.0 L492.5,342.4 L493.5,340.9 L494.5,339.4 L495.5,338.1 L496.5,336.9 L497.5,335.8 L498.5,334.9 L499.5,334.1 L500.5,333.5 L501.5,333.0 L502.5,332.7 L503.5,332.5 L504.5,332.5 L505.5,332.7 L506.5,333.0 L507.5,333.5 L508.5,334.1 L509.5,335.0 L510.5,335.9 L511.5,337.0 L512.5,338.3 L513.5,339.7 L514.5,341.2 L515.5,342.8 L516.5,344.6 L517.5,346.4 L518.5,348.3 L519.5,350.2 L520.5,352.2 L521.5,354.3 L522.5,356.4 L523.5,358.5 L524.5,360.7 L525.5,362.8 L526.5,364.9 L527.5,367.0 L528.5,369.1 L529.5,371.1 L530.5,373.1 L531.5,375.1 L532.5,377.0 L533.5,378.8 L534.5,380.6 L535.5,382.3 L536.5,384.0 L537.5,385.5 L538.5,387.0 L539.5,388.4 L540.5,389.8 L541.5,391.0 L542.5,392.2 L543.5,393.3 L544.5,394.4 L545.5,395.3 L546.5,396.2 L547.5,397.1 L548.5,397.8 L549.5,398.5 L550.5,399.2 L551.5,399.8 L552.5,400.4 L553.5,400.9 L554.5,401.3 L555.5,401.7 L556.5,402.1 L557.5,402.5 L558.5,402.8 L559.5,403.1 L560.5,403.3 L561.5,403.5 L562.5,403.8 L563.5,403.9 L564.5,404.1 L565.5,404.3 L566.5,404.4 L567.5,404.5 L568.5,404.6 L569.5,404.7 L570.5,404.8 L571.5,404.9 L572.5,405.0 L573.5,405.0 L574.5,405.1 L575.5,405.2 L576.5,405.2 L577.5,405.3 L578.5,405.3 L579.5,405.4 L580.5,405.4 L581.5,405.4 L582.5,405.5 L583.5,405.5 L584.5,405.5 L585.5,405.6 L586.5,405.6 L587.5,405.6 L588.5,405.7 L589.5,405.7 L590.5,405.7 L591.5,405.8" stroke-width="3.00"/>
<path d="M269.4,396.6 L270.4,396.6 L271.4,396.6 L272.4,396.7 L273.4,396.7 L274.4,396.7 L275.4,396.7 L276.4,396.8 L277.4,396.8 L278.4,396.8 L279.4,396.8 L280.4,396.9 L281.4,396.9 L282.4,396.9 L283.4,396.9 L284.4,396.9 L285.4,397.0 L286.4,397.0 L287.4,397.0 L288.4,397.0 L289.4,397.0 L290.4,397.0 L291.4,397.0 L292.4,397.1 L293.4,397.1 L294.4,397.1 L295.4,397.1 L296.4,397.1 L297.4,397.1 L298.4,397.1 L299.4,397.1 L300.4,397.1 L301.4,397.1 L302.4,397.1 L303.4,397.0 L304.4,397.0 L305.4,397.0 L306.4,397.0 L307.4,397.0 L308.4,396.9 L309.4,396.9 L310.4,396.9 L311.4,396.9 L312.4,396.8 L313.4,396.8 L314.4,396.8 L315.4,396.7 L316.4,396.7 L317.4,396.6 L318.4,396.6 L319.4,396.5 L320.4,396.5 L321.4,396.4 L322.4,396.4 L323.4,396.3 L324.4,396.3 L325.4,396.2 L326.4,396.2 L327.4,396.1 L328.4,396.0 L329.4,396.0 L330.4,395.9 L331.4,395.9 L332.4,395.8 L333.4,395.8 L334.4,395.7 L335.4,395.7 L336.4,395.6 L337.4,395.6 L338.4,395.5 L339.4,395.5 L340.4,395.5 L341.4,395.5 L342.4,395.4 L343.4,395.4 L344.4,395.4 L345.4,395.4 L346.4,395.4 L347.4,395.4 L348.4,395.4 L349.4,395.4 L350.4,395.4 L351.4,395.4 L352.4,395.5 L353.4,395.5 L354.4,395.6 L355.4,395.7 L356.4,395.7 L357.4,395.9 L358.4,396.0 L359.4,396.1 L360.4,396.3 L361.4,396.4 L362.4,396.6 L363.4,396.8 L364.4,396.9 L365.4,397.1 L366.4,397.3 L367.4,397.5 L368.4,397.7 L369.4,397.8 L370.4,398.0 L371.4,398.2 L372.4,398.3 L373.4,398.5 L374.4,398.6 L375.4,398.8 L376.4,398.9 L377.4,399.0 L378.4,399.1 L379.4,399.2 L380.4,399.3 L381.4,399.4 L382.4,399.5 L383.4,399.6 L384.4,399.6 L385.4,399.7 L386.4,399.8 L387.4,399.8 L388.4,399.9 L389.4,399.9 L390.4,400.0 L391.4,400.0 L392.4,400.1 L393.4,400.1 L394.4,400.1 L395.4,400.2 L396.4,400.2 L397.4,400.2 L398.4,400.3 L399.4,400.3 L400.4,400.3 L401.4,400.4 L402.4,400.4 L403.4,400.4 L404.4,400.4 L405.4,400.5 L406.4,400.5 L407.4,400.5 L408.4,400.6 L409.4,400.6 L410.4,400.6 L411.4,400.6 L412.4,400.7 L413.4,400.7 L414.4,400.7 L415.4,400.8 L416.4,400.8 L417.4,400.8 L418.4,400.8 L419.4,400.9 L420.4,400.9 L421.4,400.9 L422.4,401.0 L423.4,401.0 L424.4,401.0 L425.4,401.0 L426.4,401.1 L427.4,401.1 L428.4,401.1 L429.4,401.2 L430.4,401.2 L431.4,401.2 L432.4,401.2 L433.4,401.3 L434.4,401.3 L435.4,401.3 L436.4,401.4 L437.4,401.4 L438.4,401.4 L439.4,401.4 L440.4,401.5 L441.4,401.5 L442.4,401.5 L443.4,401.6 L444.4,401.6 L445.5,401.6 L446.5,401.6 L447.5,401.7 L448.5,401.7 L449.5,401.7 L450.5,401.8 L451.5,401.8 L452.5,401.8 L453.5,401.8 L454.5,401.9 L455.5,401.9 L456.5,401.9" stroke-width="3.00"/>
<path d="M269.4,396.5 L270.4,396.5 L271.4,396.6 L272.4,396.6 L273.4,396.6 L274.4,396.7 L275.4,396.7 L276.4,396.7 L277.4,396.7 L278.4,396.8 L279.4,396.8 L280.4,396.8 L281.4,396.8 L282.4,396.8 L283.4,396.8 L284.4,396.8 L285.4,396.8 L286.4,396.8 L287.4,396.8 L288.4,396.8 L289.4,396.8 L290.4,396.8 L291.4,396.8 L292.4,396.8 L293.4,396.8 L294.4,396.8 L295.4,396.8 L296.4,396.8 L297.4,396.7 L298.4,396.7 L299.4,396.7 L300.4,396.7 L301.4,396.7 L302.4,396.7 L303.4,396.7 L304.4,396.7 L305.4,396.6 L306.4,396.6 L307.4,396.6 L308.4,396.6 L309.4,396.6 L310.4,396.6 L311.4,396.5 L312.4,396.5 L313.4,396.5 L314.4,396.4 L315.4,396.4 L316.4,396.3 L317.4,396.2 L318.4,396.1 L319.4,396.0 L320.4,395.9 L321.4,395.8 L322.4,395.7 L323.4,395.6 L324.4,395.5 L325.4,395.4 L326.4,395.2 L327.4,395.1 L328.4,395.0 L329.4,394.8 L330.4,394.7 L331.4,394.5 L332.4,394.4 L333.4,394.2 L334.4,394.0 L335.4,393.8 L336.4,393.6 L337.4,393.4 L338.4,393.2 L339.4,393.0 L340.4,392.8 L341.4,392.5 L342.4,392.3 L343.4,392.0 L344.4,391.7 L345.4,391.4 L346.4,391.1 L347.4,390.8 L348.4,390.4 L349.4,390.0 L350.4,389.6 L351.4,389.2 L352.4,388.8 L353.4,388.3 L354.4,387.7 L355.4,387.2 L356.4,386.6 L357.4,385.9 L358.4,385.1 L359.4,384.3 L360.4,383.4 L361.4,382.4 L362.4,381.3 L363.4,380.1 L364.4,378.8 L365.4,377.4 L366.4,375.9 L367.4,374.4 L368.4,372.9 L369.4,371.3 L370.4,369.6 L371.4,367.8 L372.4,365.9 L373.4,363.6 L374.4,361.0 L375.4,357.9 L376.4,354.3 L377.4,350.3 L378.4,346.1 L379.4,342.1 L380.4,338.6 L381.4,335.6 L382.4,332.8 L383.4,329.9 L384.4,326.7 L385.4,323.3 L386.4,320.0 L387.4,316.8 L388.4,313.9 L389.4,310.9 L390.4,307.7 L391.4,304.0 L392.4,299.7 L393.4,295.5 L394.4,291.6 L395.4,288.2 L396.4,285.0 L397.4,281.8 L398.4,278.5 L399.4,275.2 L400.4,272.0 L401.4,268.9 L402.4,265.9 L403.4,263.2 L404.4,260.5 L405.4,258.0 L406.4,255.5 L407.4,253.1 L408.4,250.8 L409.4,248.6 L410.4,246.5 L411.4,244.6 L412.4,242.7 L413.4,240.9 L414.4,239.3 L415.4,237.7 L416.4,236.2 L417.4,234.7 L418.4,233.2 L419.4,231.8 L420.4,230.4 L421.4,229.0 L422.4,227.7 L423.4,226.4 L424.4,225.2 L425.4,224.0 L426.4,222.9 L427.4,221.8 L428.4,220.8 L429.4,219.8 L430.4,218.8 L431.4,217.9 L432.4,217.0 L433.4,216.2 L434.4,215.4 L435.4,214.6 L436.4,213.8 L437.4,213.1 L438.4,212.3 L439.4,211.6 L440.4,210.8 L441.4,210.2 L442.4,209.6 L443.4,209.2 L444.4,208.9 L445.5,208.7 L446.5,208.8 L447.5,209.0 L448.5,209.4 L449.5,209.8 L450.5,210.4 L451.5,211.1 L452.5,212.1 L453.5,213.3 L454.5,214.8 L455.5,216.5 L456.5,218.3 L457.5,220.2 L458.5,222.3 L459.5,224.5 L460.5,226.8 L461.5,229.3 L462.5,232.0 L463.5,234.9 L464.5,237.9 L465.5,240.9 L466.5,244.0 L467.5,247.0 L468.5,250.0 L469.5,253.0 L470.5,256.0 L471.5,259.0 L472.5,262.0 L473.5,264.9 L474.5,267.8 L475.5,270.6 L476.5,273.4 L477.5,276.1 L478.5,278.8 L479.5,281.4 L480.5,283.9 L481.5,286.2 L482.5,288.4 L483.5,290.5 L484.5,292.6 L485.5,294.5 L486.5,296.3 L487.5,298.1 L488.5,299.8 L489.5,301.3 L490.5,302.7 L491.5,304.0 L492.5,305.1 L493.5,306.2 L494.5,307.2 L495.5,308.1 L496.5,309.0 L497.5,309.9 L498.5,310.9 L499.5,311.9 L500.5,312.9 L501.5,314.1 L502.5,315.2 L503.5,316.5 L504.5,317.7 L505.5,319.1 L506.5,320.4 L507.5,321.8 L508.5,323.2 L509.5,324.7 L510.5,326.2 L511.5,327.8 L512.5,329.5 L513.5,331.1 L514.5,332.9 L515.5,334.6 L516.5,336.5 L517.5,338.3 L518.5,340.2 L519.5,342.2 L520.5,344.1 L521.5,346.1 L522.5,348.1 L523.5,350.2 L524.5,352.2 L525.5,354.3 L526.5,356.3 L527.5,358.4 L528.5,360.4 L529.5,362.4 L530.5,364.5 L531.5,366.5 L532.5,368.4 L533.5,370.4 L534.5,372.3 L535.5,374.1 L536.5,375.9 L537.5,377.7 L538.5,379.4 L539.5,381.0 L540.5,382.6 L541.5,384.1 L542.5,385.5 L543.5,386.9 L544.5,388.2 L545.5,389.4 L546.5,390.5 L547.5,391.6 L548.5,392.6 L549.5,393.4 L550.5,394.2 L551.5,395.0 L552.5,395.6 L553.5,396.3 L554.5,396.8 L555.5,397.4 L556.5,397.9 L557.5,398.4 L558.5,399.0 L559.5,399.5 L560.5,400.0 L561.5,400.5 L562.5,401.0 L563.5,401.4 L564.5,401.8 L565.5,402.2 L566.5,402.5 L567.5,402.8 L568.5,403.1 L569.5,403.3 L570.5,403.5 L571.5,403.7 L572.5,403.9 L573.5,404.1 L574.5,404.3 L575.5,404.4 L576.5,404.6 L577.5,404.7 L578.5,404.8 L579.5,404.9 L580.5,405.0 L581.5,405.1 L582.5,405.2 L583.5,405.3 L584.5,405.3 L585.5,405.4 L586.5,405.4 L587.5,405.5 L588.5,405.6 L589.5,405.6 L590.5,405.7 L591.5,405.7 L592.5,405.8 L593.5,405.8 L594.5,405.8 L595.5,405.9 L596.5,405.9 L597.5,405.9 L598.5,406.0 L599.5,406.0 L600.5,406.0 L601.5,406.1 L602.5,406.1 L603.5,406.1 L604.5,406.1 L605.5,406.2 L606.5,406.2 L607.5,406.2 L608.5,406.3 L609.5,406.3 L610.5,406.3 L611.5,406.3 L612.5,406.3 L613.5,406.4 L614.5,406.4 L615.5,406.4 L616.5,406.5 L617.5,406.5 L618.5,406.5 L619.5,406.6 L620.5,406.6" stroke-width="4.70"/>
</g>
<circle cx="426.9" cy="223.1" r="1.8" fill="#000"/>
<circle cx="398.3" cy="267.2" r="1.8" fill="#000"/>
<circle cx="466.5" cy="243.0" r="1.8" fill="#000"/>
<circle cx="476.0" cy="272.0" r="1.8" fill="#000"/>
<g fill="none" stroke="#000" stroke-linejoin="round" stroke-linecap="butt">
<path d="M378.2,496.8 L741.7,508.3" stroke-width="4.00"/>
<path d="M421.1,498.1 L422.1,498.2 L423.1,498.2 L424.1,498.2 L425.1,498.3 L426.1,498.3 L427.1,498.3 L428.1,498.3 L429.1,498.4 L430.1,498.4 L431.1,498.4 L432.1,498.4 L433.1,498.4 L434.1,498.4 L435.1,498.5 L436.1,498.5 L437.1,498.5 L438.1,498.5 L439.1,498.5 L440.1,498.4 L441.1,498.4 L442.1,498.4 L443.1,498.4 L444.1,498.3 L445.1,498.3 L446.1,498.2 L447.1,498.2 L448.1,498.1 L449.1,498.0 L450.1,497.9 L451.1,497.7 L452.1,497.6 L453.1,497.4 L454.1,497.2 L455.1,497.0 L456.1,496.8 L457.1,496.5 L458.1,496.2 L459.1,495.9 L460.1,495.5 L461.1,495.1 L462.1,494.7 L463.1,494.2 L464.1,493.6 L465.1,493.1 L466.1,492.4 L467.1,491.7 L468.1,491.0 L469.1,490.2 L470.1,489.3 L471.1,488.4 L472.1,487.4 L473.1,486.3 L474.1,485.2 L475.1,484.0 L476.1,482.7 L477.1,481.3 L478.1,479.9 L479.1,478.4 L480.1,476.8 L481.1,475.1 L482.1,473.4 L483.1,471.6 L484.1,469.7 L485.1,467.7 L486.1,465.7 L487.1,463.6 L488.0,461.5 L489.0,459.2 L490.0,457.0 L491.0,454.7 L492.0,452.3 L493.0,450.0 L494.0,447.5 L495.0,445.1 L496.0,442.7 L497.0,440.3 L498.0,437.8 L499.0,435.4 L500.0,433.1 L501.0,430.7 L502.0,428.4 L503.0,426.2 L504.0,424.0 L505.0,421.9 L506.0,419.9 L507.0,418.0 L508.0,416.2 L509.0,414.6 L510.0,413.0 L511.0,411.6 L512.0,410.3 L513.0,409.1 L514.0,408.2 L515.0,407.3 L516.0,406.7 L517.0,406.2 L518.0,405.8 L519.0,405.7 L520.0,405.7 L521.0,405.9 L522.0,406.3 L523.0,406.9 L524.0,407.6 L525.0,408.6 L526.0,409.7 L527.0,410.9 L528.0,412.4 L529.0,413.9 L530.0,415.7 L531.0,417.5 L532.0,419.5 L533.0,421.6 L534.0,423.8 L535.0,426.1 L536.0,428.5 L537.0,430.9 L538.0,433.4 L539.0,435.9 L540.0,438.5 L541.0,441.1 L542.0,443.7 L543.0,446.3 L544.0,448.9 L545.0,451.5 L546.0,454.0 L547.0,456.5 L548.0,459.0 L549.0,461.4 L550.0,463.8 L551.0,466.1 L552.0,468.3 L553.0,470.5 L554.0,472.6 L555.0,474.6 L556.0,476.5 L557.0,478.4 L558.0,480.1 L559.0,481.8 L560.0,483.4 L560.9,484.9 L561.9,486.3 L562.9,487.7 L563.9,489.0 L564.9,490.2 L565.9,491.3 L566.9,492.3 L567.9,493.3 L568.9,494.2 L569.9,495.0 L570.9,495.8 L571.9,496.5 L572.9,497.2 L573.9,497.8 L574.9,498.4 L575.9,498.9 L576.9,499.4 L577.9,499.8 L578.9,500.2 L579.9,500.6 L580.9,500.9 L581.9,501.2 L582.9,501.5 L583.9,501.7 L584.9,501.9 L585.9,502.1 L586.9,502.3 L587.9,502.5 L588.9,502.6 L589.9,502.8 L590.9,502.9 L591.9,503.0 L592.9,503.1 L593.9,503.2 L594.9,503.3 L595.9,503.4 L596.9,503.5 L597.9,503.5 L598.9,503.6 L599.9,503.6 L600.9,503.7 L601.9,503.8 L602.9,503.8 L603.9,503.9 L604.9,503.9 L605.9,503.9 L606.9,504.0 L607.9,504.0 L608.9,504.1 L609.9,504.1 L610.9,504.1 L611.9,504.2 L612.9,504.2 L613.9,504.2 L614.9,504.3 L615.9,504.3 L616.9,504.3 L617.9,504.4" stroke-width="2.70"/>
<path d="M460.1,499.4 L461.1,499.4 L462.1,499.4 L463.1,499.4 L464.1,499.5 L465.1,499.5 L466.1,499.5 L467.1,499.5 L468.1,499.6 L469.1,499.6 L470.1,499.6 L471.1,499.6 L472.1,499.6 L473.1,499.6 L474.1,499.6 L475.1,499.6 L476.1,499.6 L477.1,499.6 L478.1,499.6 L479.1,499.5 L480.1,499.5 L481.1,499.5 L482.1,499.4 L483.1,499.3 L484.1,499.3 L485.1,499.2 L486.1,499.0 L487.1,498.9 L488.0,498.8 L489.0,498.6 L490.0,498.4 L491.0,498.2 L492.0,497.9 L493.0,497.6 L494.0,497.3 L495.0,496.9 L496.0,496.6 L497.0,496.1 L498.0,495.6 L499.0,495.1 L500.0,494.5 L501.0,493.8 L502.0,493.1 L503.0,492.3 L504.0,491.4 L505.0,490.5 L506.0,489.5 L507.0,488.4 L508.0,487.2 L509.0,485.9 L510.0,484.5 L511.0,483.0 L512.0,481.4 L513.0,479.7 L514.0,477.8 L515.0,475.9 L516.0,473.8 L517.0,471.6 L518.0,469.3 L519.0,466.9 L520.0,464.3 L521.0,461.6 L522.0,458.8 L523.0,455.8 L524.0,452.8 L525.0,449.6 L526.0,446.2 L527.0,442.8 L528.0,439.3 L529.0,435.6 L530.0,431.9 L531.0,428.0 L532.0,424.1 L533.0,420.1 L534.0,416.1 L535.0,412.0 L536.0,407.9 L537.0,403.7 L538.0,399.6 L539.0,395.4 L540.0,391.3 L541.0,387.2 L542.0,383.2 L543.0,379.2 L544.0,375.3 L545.0,371.5 L546.0,367.8 L547.0,364.3 L548.0,360.9 L549.0,357.7 L550.0,354.6 L551.0,351.8 L552.0,349.2 L553.0,346.7 L554.0,344.6 L555.0,342.6 L556.0,341.0 L557.0,339.5 L558.0,338.4 L559.0,337.5 L560.0,336.9 L560.9,336.6 L561.9,336.6 L562.9,336.9 L563.9,337.4 L564.9,338.3 L565.9,339.4 L566.9,340.7 L567.9,342.4 L568.9,344.2 L569.9,346.4 L570.9,348.7 L571.9,351.3 L572.9,354.1 L573.9,357.0 L574.9,360.2 L575.9,363.5 L576.9,367.0 L577.9,370.7 L578.9,374.4 L579.9,378.3 L580.9,382.2 L581.9,386.2 L582.9,390.3 L583.9,394.4 L584.9,398.6 L585.9,402.7 L586.9,406.9 L587.9,411.1 L588.9,415.2 L589.9,419.3 L590.9,423.3 L591.9,427.3 L592.9,431.2 L593.9,435.0 L594.9,438.8 L595.9,442.4 L596.9,445.9 L597.9,449.4 L598.9,452.7 L599.9,455.9 L600.9,458.9 L601.9,461.9 L602.9,464.7 L603.9,467.4 L604.9,470.0 L605.9,472.5 L606.9,474.8 L607.9,477.0 L608.9,479.1 L609.9,481.1 L610.9,482.9 L611.9,484.7 L612.9,486.3 L613.9,487.8 L614.9,489.3 L615.9,490.6 L616.9,491.9 L617.9,493.0 L618.9,494.1 L619.9,495.1 L620.9,496.0 L621.9,496.8 L622.9,497.6 L623.9,498.3 L624.9,499.0 L625.9,499.6 L626.9,500.2 L627.9,500.7 L628.9,501.1 L629.9,501.5 L630.9,501.9 L631.9,502.3 L632.8,502.6 L633.8,502.9 L634.8,503.2 L635.8,503.4 L636.8,503.6 L637.8,503.8 L638.8,504.0 L639.8,504.1 L640.8,504.3 L641.8,504.4 L642.8,504.6 L643.8,504.7 L644.8,504.8 L645.8,504.9 L646.8,504.9 L647.8,505.0 L648.8,505.1 L649.8,505.2 L650.8,505.2 L651.8,505.3 L652.8,505.3 L653.8,505.4 L654.8,505.4 L655.8,505.5 L656.8,505.5 L657.8,505.6 L658.8,505.6 L659.8,505.7 L660.8,505.7 L661.8,505.7 L662.8,505.8" stroke-width="2.70"/>
<path d="M498.0,500.6 L499.0,500.6 L500.0,500.6 L501.0,500.7 L502.0,500.7 L503.0,500.7 L504.0,500.7 L505.0,500.8 L506.0,500.8 L507.0,500.8 L508.0,500.8 L509.0,500.9 L510.0,500.9 L511.0,500.9 L512.0,500.9 L513.0,500.9 L514.0,501.0 L515.0,501.0 L516.0,501.0 L517.0,501.0 L518.0,501.0 L519.0,501.0 L520.0,501.0 L521.0,501.0 L522.0,501.0 L523.0,500.9 L524.0,500.9 L525.0,500.9 L526.0,500.8 L527.0,500.8 L528.0,500.7 L529.0,500.7 L530.0,500.6 L531.0,500.5 L532.0,500.4 L533.0,500.3 L534.0,500.2 L535.0,500.0 L536.0,499.9 L537.0,499.7 L538.0,499.5 L539.0,499.3 L540.0,499.1 L541.0,498.8 L542.0,498.6 L543.0,498.2 L544.0,497.9 L545.0,497.5 L546.0,497.2 L547.0,496.7 L548.0,496.3 L549.0,495.8 L550.0,495.2 L551.0,494.7 L552.0,494.0 L553.0,493.4 L554.0,492.7 L555.0,491.9 L556.0,491.1 L557.0,490.3 L558.0,489.4 L559.0,488.4 L560.0,487.4 L560.9,486.3 L561.9,485.2 L562.9,484.0 L563.9,482.8 L564.9,481.5 L565.9,480.1 L566.9,478.7 L567.9,477.2 L568.9,475.7 L569.9,474.1 L570.9,472.4 L571.9,470.7 L572.9,468.9 L573.9,467.1 L574.9,465.3 L575.9,463.3 L576.9,461.4 L577.9,459.4 L578.9,457.3 L579.9,455.3 L580.9,453.1 L581.9,451.0 L582.9,448.9 L583.9,446.7 L584.9,444.5 L585.9,442.3 L586.9,440.1 L587.9,437.9 L588.9,435.7 L589.9,433.6 L590.9,431.5 L591.9,429.4 L592.9,427.3 L593.9,425.3 L594.9,423.3 L595.9,421.4 L596.9,419.5 L597.9,417.8 L598.9,416.1 L599.9,414.4 L600.9,412.9 L601.9,411.5 L602.9,410.2 L603.9,408.9 L604.9,407.8 L605.9,406.8 L606.9,405.9 L607.9,405.2 L608.9,404.5 L609.9,404.0 L610.9,403.6 L611.9,403.4 L612.9,403.3 L613.9,403.3 L614.9,403.4 L615.9,403.8 L616.9,404.3 L617.9,404.9 L618.9,405.8 L619.9,406.7 L620.9,407.8 L621.9,409.1 L622.9,410.5 L623.9,412.0 L624.9,413.7 L625.9,415.4 L626.9,417.3 L627.9,419.3 L628.9,421.3 L629.9,423.5 L630.9,425.7 L631.9,428.0 L632.8,430.4 L633.8,432.8 L634.8,435.2 L635.8,437.6 L636.8,440.1 L637.8,442.6 L638.8,445.1 L639.8,447.6 L640.8,450.1 L641.8,452.6 L642.8,455.0 L643.8,457.4 L644.8,459.8 L645.8,462.1 L646.8,464.4 L647.8,466.6 L648.8,468.7 L649.8,470.8 L650.8,472.9 L651.8,474.9 L652.8,476.8 L653.8,478.6 L654.8,480.3 L655.8,482.0 L656.8,483.6 L657.8,485.2 L658.8,486.7 L659.8,488.0 L660.8,489.4 L661.8,490.6 L662.8,491.8 L663.8,492.9 L664.8,494.0 L665.8,495.0 L666.8,495.9 L667.8,496.8 L668.8,497.6 L669.8,498.3 L670.8,499.1 L671.8,499.7 L672.8,500.3 L673.8,500.9 L674.8,501.4 L675.8,501.9 L676.8,502.4 L677.8,502.8 L678.8,503.2 L679.8,503.5 L680.8,503.8 L681.8,504.1 L682.8,504.4 L683.8,504.6 L684.8,504.9 L685.8,505.1 L686.8,505.3 L687.8,505.5 L688.8,505.6 L689.8,505.8 L690.8,505.9 L691.8,506.0 L692.8,506.1 L693.8,506.2 L694.8,506.3 L695.8,506.4 L696.8,506.5 L697.8,506.6 L698.8,506.7 L699.8,506.7 L700.8,506.8 L701.8,506.9 L702.8,506.9 L703.8,507.0 L704.8,507.0 L705.7,507.1 L706.7,507.1 L707.7,507.2 L708.7,507.2 L709.7,507.2 L710.7,507.3 L711.7,507.3 L712.7,507.4 L713.7,507.4 L714.7,507.4 L715.7,507.5 L716.7,507.5 L717.7,507.5 L718.7,507.6 L719.7,507.6 L720.7,507.6 L721.7,507.7 L722.7,507.7 L723.7,507.7 L724.7,507.8 L725.7,507.8 L726.7,507.8 L727.7,507.9 L728.7,507.9" stroke-width="2.70"/>
<path d="M378.2,496.7 L379.2,496.7 L380.2,496.8 L381.2,496.8 L382.2,496.8 L383.2,496.8 L384.2,496.8 L385.2,496.9 L386.2,496.9 L387.2,496.9 L388.2,496.9 L389.2,496.9 L390.2,496.9 L391.2,496.9 L392.2,496.9 L393.2,496.9 L394.2,497.0 L395.2,497.0 L396.2,497.0 L397.2,497.0 L398.2,497.0 L399.2,497.0 L400.2,497.0 L401.2,497.0 L402.2,496.9 L403.2,496.9 L404.2,496.9 L405.2,496.9 L406.2,496.9 L407.2,496.9 L408.2,496.8 L409.2,496.8 L410.2,496.8 L411.2,496.8 L412.2,496.7 L413.2,496.7 L414.2,496.7 L415.1,496.6 L416.1,496.6 L417.1,496.6 L418.1,496.5 L419.1,496.5 L420.1,496.4 L421.1,496.4 L422.1,496.3 L423.1,496.3 L424.1,496.2 L425.1,496.2 L426.1,496.1 L427.1,496.1 L428.1,496.0 L429.1,495.9 L430.1,495.9 L431.1,495.8 L432.1,495.8 L433.1,495.7 L434.1,495.6 L435.1,495.6 L436.1,495.5 L437.1,495.5 L438.1,495.4 L439.1,495.4 L440.1,495.3 L441.1,495.3 L442.1,495.2 L443.1,495.2 L444.1,495.1 L445.1,495.1 L446.1,495.0 L447.1,495.0 L448.1,495.0 L449.1,494.9 L450.1,494.9 L451.1,494.9 L452.1,494.9 L453.1,494.9 L454.1,494.9 L455.1,494.9 L456.1,494.9 L457.1,494.9 L458.1,494.9 L459.1,494.9 L460.1,494.9 L461.1,494.9 L462.1,495.0 L463.1,495.0 L464.1,495.1 L465.1,495.1 L466.1,495.2 L467.1,495.3 L468.1,495.5 L469.1,495.6 L470.1,495.7 L471.1,495.9 L472.1,496.1 L473.1,496.3 L474.1,496.4 L475.1,496.6 L476.1,496.8 L477.1,497.0 L478.1,497.2 L479.1,497.4 L480.1,497.6 L481.1,497.8 L482.1,498.0 L483.1,498.2 L484.1,498.4 L485.1,498.6 L486.1,498.8 L487.1,498.9 L488.0,499.1 L489.0,499.2 L490.0,499.4 L491.0,499.5 L492.0,499.6 L493.0,499.7 L494.0,499.9 L495.0,500.0 L496.0,500.1 L497.0,500.2 L498.0,500.2 L499.0,500.3 L500.0,500.4 L501.0,500.5 L502.0,500.5 L503.0,500.6 L504.0,500.6 L505.0,500.7 L506.0,500.7 L507.0,500.8 L508.0,500.8 L509.0,500.9 L510.0,500.9 L511.0,501.0 L512.0,501.0 L513.0,501.0 L514.0,501.1 L515.0,501.1 L516.0,501.1 L517.0,501.2 L518.0,501.2 L519.0,501.2 L520.0,501.3 L521.0,501.3 L522.0,501.3 L523.0,501.4 L524.0,501.4 L525.0,501.4 L526.0,501.5 L527.0,501.5 L528.0,501.5 L529.0,501.6 L530.0,501.6 L531.0,501.6 L532.0,501.7 L533.0,501.7 L534.0,501.7 L535.0,501.8 L536.0,501.8 L537.0,501.8 L538.0,501.9 L539.0,501.9 L540.0,501.9 L541.0,501.9 L542.0,502.0 L543.0,502.0 L544.0,502.0 L545.0,502.1 L546.0,502.1 L547.0,502.1 L548.0,502.2 L549.0,502.2 L550.0,502.2 L551.0,502.3 L552.0,502.3 L553.0,502.3 L554.0,502.4 L555.0,502.4 L556.0,502.4 L557.0,502.5 L558.0,502.5 L559.0,502.5 L560.0,502.5 L560.9,502.6 L561.9,502.6 L562.9,502.6 L563.9,502.7 L564.9,502.7 L565.9,502.7 L566.9,502.8 L567.9,502.8 L568.9,502.8 L569.9,502.9 L570.9,502.9 L571.9,502.9 L572.9,503.0 L573.9,503.0 L574.9,503.0 L575.9,503.1 L576.9,503.1 L577.9,503.1 L578.9,503.2 L579.9,503.2 L580.9,503.2 L581.9,503.2 L582.9,503.3 L583.9,503.3 L584.9,503.3 L585.9,503.4 L586.9,503.4 L587.9,503.4" stroke-width="2.70"/>
<path d="M378.2,496.8 L379.2,496.8 L380.2,496.9 L381.2,496.9 L382.2,496.9 L383.2,497.0 L384.2,497.0 L385.2,497.0 L386.2,497.0 L387.2,497.0 L388.2,497.0 L389.2,497.0 L390.2,497.0 L391.2,497.0 L392.2,497.0 L393.2,496.9 L394.2,496.9 L395.2,496.9 L396.2,496.8 L397.2,496.8 L398.2,496.8 L399.2,496.7 L400.2,496.6 L401.2,496.6 L402.2,496.5 L403.2,496.4 L404.2,496.4 L405.2,496.3 L406.2,496.2 L407.2,496.1 L408.2,496.0 L409.2,495.9 L410.2,495.8 L411.2,495.7 L412.2,495.6 L413.2,495.5 L414.2,495.4 L415.1,495.2 L416.1,495.1 L417.1,495.0 L418.1,494.9 L419.1,494.8 L420.1,494.7 L421.1,494.6 L422.1,494.5 L423.1,494.4 L424.1,494.3 L425.1,494.2 L426.1,494.1 L427.1,494.0 L428.1,493.9 L429.1,493.9 L430.1,493.8 L431.1,493.7 L432.1,493.6 L433.1,493.5 L434.1,493.5 L435.1,493.4 L436.1,493.3 L437.1,493.2 L438.1,493.1 L439.1,493.1 L440.1,493.0 L441.1,492.9 L442.1,492.8 L443.1,492.7 L444.1,492.6 L445.1,492.5 L446.1,492.4 L447.1,492.3 L448.1,492.2 L449.1,492.1 L450.1,491.9 L451.1,491.8 L452.1,491.6 L453.1,491.4 L454.1,491.2 L455.1,491.0 L456.1,490.7 L457.1,490.4 L458.1,490.1 L459.1,489.8 L460.1,489.4 L461.1,489.0 L462.1,488.6 L463.1,488.1 L464.1,487.6 L465.1,487.0 L466.1,486.4 L467.1,485.7 L468.1,485.0 L469.1,484.3 L470.1,483.5 L471.1,482.6 L472.1,481.7 L473.1,480.7 L474.1,479.6 L475.1,478.5 L476.1,477.4 L477.1,476.1 L478.1,474.8 L479.1,473.4 L480.1,472.0 L481.1,470.5 L482.1,468.9 L483.1,467.3 L484.1,465.6 L485.1,463.9 L486.1,462.1 L487.1,460.2 L488.0,458.2 L489.0,456.1 L490.0,453.8 L491.0,451.4 L492.0,448.9 L493.0,446.3 L494.0,443.7 L495.0,441.2 L496.0,438.7 L497.0,436.1 L498.0,433.4 L499.0,430.6 L500.0,427.6 L501.0,424.4 L502.0,421.0 L503.0,417.6 L504.0,414.1 L505.0,410.5 L506.0,407.0 L507.0,403.5 L508.0,400.0 L509.0,396.6 L510.0,393.3 L511.0,390.0 L512.0,386.9 L513.0,383.8 L514.0,380.8 L515.0,377.8 L516.0,375.0 L517.0,372.2 L518.0,369.4 L519.0,366.7 L520.0,364.0 L521.0,361.3 L522.0,358.7 L523.0,356.1 L524.0,353.6 L525.0,351.1 L526.0,348.6 L527.0,346.2 L528.0,343.8 L529.0,341.5 L530.0,339.3 L531.0,337.1 L532.0,335.0 L533.0,333.0 L534.0,331.1 L535.0,329.1 L536.0,327.2 L537.0,325.3 L538.0,323.5 L539.0,321.6 L540.0,319.8 L541.0,318.1 L542.0,316.3 L543.0,314.7 L544.0,313.1 L545.0,311.6 L546.0,310.1 L547.0,308.7 L548.0,307.3 L549.0,305.9 L550.0,304.7 L551.0,303.5 L552.0,302.4 L553.0,301.4 L554.0,300.5 L555.0,299.7 L556.0,299.0 L557.0,298.5 L558.0,298.0 L559.0,297.7 L560.0,297.4 L560.9,297.3 L561.9,297.3 L562.9,297.5 L563.9,297.8 L564.9,298.3 L565.9,298.9 L566.9,299.6 L567.9,300.4 L568.9,301.4 L569.9,302.5 L570.9,303.7 L571.9,305.0 L572.9,306.5 L573.9,308.0 L574.9,309.6 L575.9,311.4 L576.9,313.3 L577.9,315.2 L578.9,317.3 L579.9,319.4 L580.9,321.6 L581.9,323.9 L582.9,326.3 L583.9,328.6 L584.9,331.0 L585.9,333.4 L586.9,335.8 L587.9,338.1 L588.9,340.4 L589.9,342.6 L590.9,344.9 L591.9,347.0 L592.9,349.1 L593.9,351.1 L594.9,353.1 L595.9,355.0 L596.9,356.8 L597.9,358.6 L598.9,360.3 L599.9,361.9 L600.9,363.5 L601.9,365.1 L602.9,366.6 L603.9,368.1 L604.9,369.5 L605.9,371.0 L606.9,372.4 L607.9,373.8 L608.9,375.2 L609.9,376.5 L610.9,377.8 L611.9,379.1 L612.9,380.4 L613.9,381.8 L614.9,383.2 L615.9,384.7 L616.9,386.4 L617.9,388.2 L618.9,390.2 L619.9,392.3 L620.9,394.5 L621.9,396.8 L622.9,399.2 L623.9,401.6 L624.9,404.0 L625.9,406.4 L626.9,408.9 L627.9,411.3 L628.9,413.8 L629.9,416.3 L630.9,418.8 L631.9,421.4 L632.8,424.0 L633.8,426.7 L634.8,429.4 L635.8,432.1 L636.8,434.8 L637.8,437.6 L638.8,440.3 L639.8,443.0 L640.8,445.7 L641.8,448.4 L642.8,451.0 L643.8,453.5 L644.8,455.9 L645.8,458.3 L646.8,460.5 L647.8,462.6 L648.8,464.6 L649.8,466.5 L650.8,468.5 L651.8,470.4 L652.8,472.3 L653.8,474.3 L654.8,476.4 L655.8,478.4 L656.8,480.3 L657.8,482.2 L658.8,483.9 L659.8,485.5 L660.8,486.9 L661.8,488.2 L662.8,489.3 L663.8,490.3 L664.8,491.3 L665.8,492.2 L666.8,493.1 L667.8,494.0 L668.8,494.8 L669.8,495.6 L670.8,496.3 L671.8,497.0 L672.8,497.6 L673.8,498.2 L674.8,498.8 L675.8,499.3 L676.8,499.8 L677.8,500.2 L678.8,500.7 L679.8,501.0 L680.8,501.4 L681.8,501.7 L682.8,502.1 L683.8,502.3 L684.8,502.6 L685.8,502.8 L686.8,503.1 L687.8,503.3 L688.8,503.5 L689.8,503.7 L690.8,503.8 L691.8,504.0 L692.8,504.1 L693.8,504.3 L694.8,504.4 L695.8,504.5 L696.8,504.7 L697.8,504.8 L698.8,504.9 L699.8,505.0 L700.8,505.1 L701.8,505.2 L702.8,505.3 L703.8,505.4 L704.8,505.5 L705.7,505.6 L706.7,505.7 L707.7,505.8 L708.7,505.9 L709.7,506.0 L710.7,506.1 L711.7,506.2 L712.7,506.3 L713.7,506.4 L714.7,506.5 L715.7,506.6 L716.7,506.7 L717.7,506.8 L718.7,506.9 L719.7,507.0 L720.7,507.1 L721.7,507.2 L722.7,507.3 L723.7,507.3 L724.7,507.4 L725.7,507.5 L726.7,507.6 L727.7,507.6 L728.7,507.7 L729.7,507.8 L730.7,507.8 L731.7,507.9 L732.7,508.0 L733.7,508.0 L734.7,508.1 L735.7,508.1 L736.7,508.1 L737.7,508.2 L738.7,508.2 L739.7,508.2 L740.7,508.3 L741.7,508.3" stroke-width="4.30"/>
</g>
<circle cx="678.0" cy="496.5" r="1.8" fill="#000"/>
<circle cx="695.0" cy="501.4" r="1.8" fill="#000"/>
<circle cx="713.0" cy="504.3" r="1.8" fill="#000"/>
<circle cx="561.8" cy="295.6" r="1.8" fill="#000"/>
<circle cx="587.5" cy="337.0" r="1.8" fill="#000"/>
<circle cx="592.3" cy="350.0" r="1.8" fill="#000"/>
<circle cx="612.0" cy="403.5" r="1.8" fill="#000"/>
<g fill="none" stroke="#000" stroke-linejoin="round" stroke-linecap="butt">
<path d="M535.7,607.0 L879.4,616.7" stroke-width="4.00"/>
<path d="M567.7,607.9 L568.7,607.9 L569.7,607.9 L570.7,608.0 L571.7,608.0 L572.7,608.0 L573.7,608.0 L574.7,608.1 L575.7,608.1 L576.7,608.1 L577.7,608.1 L578.7,608.1 L579.7,608.1 L580.7,608.1 L581.7,608.1 L582.7,608.1 L583.7,608.1 L584.7,608.1 L585.7,608.1 L586.7,608.1 L587.7,608.1 L588.7,608.1 L589.7,608.0 L590.7,608.0 L591.7,607.9 L592.7,607.9 L593.6,607.8 L594.6,607.7 L595.6,607.6 L596.6,607.4 L597.6,607.3 L598.6,607.1 L599.6,606.9 L600.6,606.7 L601.6,606.5 L602.6,606.2 L603.6,605.9 L604.6,605.6 L605.6,605.3 L606.6,604.9 L607.6,604.4 L608.6,603.9 L609.6,603.4 L610.6,602.8 L611.6,602.2 L612.6,601.5 L613.6,600.8 L614.6,600.0 L615.6,599.2 L616.6,598.3 L617.6,597.3 L618.6,596.2 L619.6,595.1 L620.6,593.9 L621.6,592.7 L622.6,591.4 L623.6,590.0 L624.6,588.5 L625.6,587.0 L626.6,585.4 L627.6,583.7 L628.6,581.9 L629.6,580.1 L630.6,578.3 L631.6,576.3 L632.6,574.4 L633.6,572.3 L634.6,570.3 L635.6,568.2 L636.6,566.0 L637.6,563.9 L638.6,561.7 L639.6,559.5 L640.6,557.4 L641.6,555.2 L642.6,553.0 L643.6,550.9 L644.6,548.8 L645.6,546.8 L646.6,544.8 L647.6,542.9 L648.6,541.1 L649.6,539.3 L650.6,537.7 L651.6,536.1 L652.6,534.7 L653.6,533.4 L654.6,532.2 L655.6,531.1 L656.6,530.2 L657.6,529.4 L658.6,528.8 L659.6,528.3 L660.6,528.0 L661.6,527.9 L662.6,527.9 L663.6,528.1 L664.6,528.5 L665.6,529.2 L666.6,530.0 L667.6,531.1 L668.6,532.3 L669.6,533.7 L670.6,535.3 L671.6,537.1 L672.6,539.0 L673.6,541.0 L674.6,543.2 L675.6,545.4 L676.6,547.8 L677.6,550.2 L678.6,552.7 L679.6,555.2 L680.6,557.8 L681.6,560.4 L682.6,563.0 L683.6,565.5 L684.6,568.1 L685.6,570.6 L686.6,573.1 L687.6,575.5 L688.6,577.9 L689.6,580.1 L690.6,582.3 L691.6,584.5 L692.6,586.5 L693.6,588.5 L694.6,590.3 L695.6,592.1 L696.6,593.7 L697.6,595.3 L698.6,596.8 L699.6,598.2 L700.6,599.5 L701.6,600.7 L702.6,601.8 L703.6,602.8 L704.6,603.8 L705.6,604.6 L706.6,605.4 L707.5,606.2 L708.5,606.8 L709.5,607.4 L710.5,608.0 L711.5,608.5 L712.5,608.9 L713.5,609.3 L714.5,609.7 L715.5,610.0 L716.5,610.3 L717.5,610.6 L718.5,610.8 L719.5,611.0 L720.5,611.2 L721.5,611.4 L722.5,611.5 L723.5,611.7 L724.5,611.8 L725.5,611.9 L726.5,612.0 L727.5,612.1 L728.5,612.2 L729.5,612.2 L730.5,612.3 L731.5,612.4 L732.5,612.4 L733.5,612.5 L734.5,612.5 L735.5,612.6 L736.5,612.6 L737.5,612.6 L738.5,612.7 L739.5,612.7 L740.5,612.8 L741.5,612.8 L742.5,612.8 L743.5,612.8 L744.5,612.9 L745.5,612.9 L746.5,612.9 L747.5,613.0 L748.5,613.0 L749.5,613.0 L750.5,613.1 L751.5,613.1 L752.5,613.1 L753.5,613.1 L754.5,613.2 L755.5,613.2 L756.5,613.2 L757.5,613.3" stroke-width="2.70"/>
<path d="M586.7,608.4 L587.7,608.5 L588.7,608.5 L589.7,608.5 L590.7,608.5 L591.7,608.6 L592.7,608.6 L593.6,608.6 L594.6,608.6 L595.6,608.7 L596.6,608.7 L597.6,608.7 L598.6,608.7 L599.6,608.8 L600.6,608.8 L601.6,608.8 L602.6,608.8 L603.6,608.9 L604.6,608.9 L605.6,608.9 L606.6,608.9 L607.6,608.9 L608.6,608.9 L609.6,608.9 L610.6,609.0 L611.6,609.0 L612.6,609.0 L613.6,609.0 L614.6,608.9 L615.6,608.9 L616.6,608.9 L617.6,608.9 L618.6,608.9 L619.6,608.8 L620.6,608.8 L621.6,608.7 L622.6,608.6 L623.6,608.6 L624.6,608.5 L625.6,608.4 L626.6,608.2 L627.6,608.1 L628.6,608.0 L629.6,607.8 L630.6,607.6 L631.6,607.4 L632.6,607.1 L633.6,606.9 L634.6,606.6 L635.6,606.2 L636.6,605.9 L637.6,605.5 L638.6,605.0 L639.6,604.5 L640.6,604.0 L641.6,603.4 L642.6,602.8 L643.6,602.1 L644.6,601.4 L645.6,600.6 L646.6,599.7 L647.6,598.8 L648.6,597.8 L649.6,596.7 L650.6,595.6 L651.6,594.4 L652.6,593.1 L653.6,591.7 L654.6,590.2 L655.6,588.7 L656.6,587.0 L657.6,585.3 L658.6,583.5 L659.6,581.5 L660.6,579.5 L661.6,577.4 L662.6,575.2 L663.6,572.9 L664.6,570.5 L665.6,568.1 L666.6,565.5 L667.6,562.8 L668.6,560.1 L669.6,557.3 L670.6,554.4 L671.6,551.4 L672.6,548.4 L673.6,545.3 L674.6,542.2 L675.6,539.0 L676.6,535.8 L677.6,532.5 L678.6,529.2 L679.6,526.0 L680.6,522.7 L681.6,519.4 L682.6,516.1 L683.6,512.9 L684.6,509.7 L685.6,506.6 L686.6,503.5 L687.6,500.5 L688.6,497.6 L689.6,494.8 L690.6,492.1 L691.6,489.5 L692.6,487.1 L693.6,484.8 L694.6,482.6 L695.6,480.6 L696.6,478.8 L697.6,477.1 L698.6,475.6 L699.6,474.3 L700.6,473.2 L701.6,472.3 L702.6,471.6 L703.6,471.1 L704.6,470.9 L705.6,470.8 L706.6,470.9 L707.5,471.2 L708.5,471.7 L709.5,472.3 L710.5,473.2 L711.5,474.1 L712.5,475.3 L713.5,476.6 L714.5,478.1 L715.5,479.7 L716.5,481.4 L717.5,483.3 L718.5,485.4 L719.5,487.5 L720.5,489.8 L721.5,492.2 L722.5,494.6 L723.5,497.2 L724.5,499.9 L725.5,502.6 L726.5,505.4 L727.5,508.3 L728.5,511.2 L729.5,514.1 L730.5,517.1 L731.5,520.2 L732.5,523.2 L733.5,526.2 L734.5,529.3 L735.5,532.3 L736.5,535.4 L737.5,538.4 L738.5,541.3 L739.5,544.3 L740.5,547.2 L741.5,550.1 L742.5,552.9 L743.5,555.7 L744.5,558.4 L745.5,561.0 L746.5,563.6 L747.5,566.1 L748.5,568.6 L749.5,571.0 L750.5,573.3 L751.5,575.5 L752.5,577.6 L753.5,579.7 L754.5,581.7 L755.5,583.6 L756.5,585.4 L757.5,587.2 L758.5,588.9 L759.5,590.5 L760.5,592.0 L761.5,593.5 L762.5,594.9 L763.5,596.2 L764.5,597.4 L765.5,598.6 L766.5,599.7 L767.5,600.7 L768.5,601.7 L769.5,602.7 L770.5,603.5 L771.5,604.4 L772.5,605.1 L773.5,605.8 L774.5,606.5 L775.5,607.1 L776.5,607.7 L777.5,608.3 L778.5,608.8 L779.5,609.3 L780.5,609.7 L781.5,610.1 L782.5,610.5 L783.5,610.8 L784.5,611.2 L785.5,611.5 L786.5,611.7 L787.5,612.0 L788.5,612.2 L789.5,612.4 L790.5,612.6 L791.5,612.8 L792.5,613.0 L793.5,613.2 L794.5,613.3 L795.5,613.4 L796.5,613.6 L797.5,613.7 L798.5,613.8 L799.5,613.9 L800.5,614.0 L801.5,614.1 L802.5,614.1 L803.5,614.2 L804.5,614.3 L805.5,614.3 L806.5,614.4 L807.5,614.5 L808.5,614.5 L809.5,614.6 L810.5,614.6 L811.5,614.7 L812.5,614.7 L813.5,614.7 L814.5,614.8 L815.5,614.8 L816.5,614.9 L817.5,614.9 L818.5,614.9 L819.5,615.0 L820.5,615.0 L821.5,615.0 L822.4,615.1 L823.4,615.1" stroke-width="2.70"/>
<path d="M685.6,611.2 L686.6,611.2 L687.6,611.3 L688.6,611.3 L689.6,611.3 L690.6,611.3 L691.6,611.4 L692.6,611.4 L693.6,611.4 L694.6,611.4 L695.6,611.4 L696.6,611.4 L697.6,611.4 L698.6,611.4 L699.6,611.4 L700.6,611.4 L701.6,611.4 L702.6,611.3 L703.6,611.3 L704.6,611.3 L705.6,611.2 L706.6,611.1 L707.5,611.0 L708.5,610.9 L709.5,610.8 L710.5,610.6 L711.5,610.4 L712.5,610.2 L713.5,610.0 L714.5,609.7 L715.5,609.4 L716.5,609.0 L717.5,608.6 L718.5,608.1 L719.5,607.6 L720.5,607.0 L721.5,606.4 L722.5,605.7 L723.5,604.9 L724.5,604.1 L725.5,603.2 L726.5,602.1 L727.5,601.1 L728.5,599.9 L729.5,598.6 L730.5,597.3 L731.5,595.9 L732.5,594.3 L733.5,592.7 L734.5,591.0 L735.5,589.3 L736.5,587.4 L737.5,585.5 L738.5,583.5 L739.5,581.4 L740.5,579.3 L741.5,577.2 L742.5,575.0 L743.5,572.8 L744.5,570.6 L745.5,568.4 L746.5,566.3 L747.5,564.1 L748.5,562.0 L749.5,560.0 L750.5,558.0 L751.5,556.1 L752.5,554.3 L753.5,552.7 L754.5,551.2 L755.5,549.8 L756.5,548.5 L757.5,547.5 L758.5,546.6 L759.5,545.9 L760.5,545.4 L761.5,545.0 L762.5,544.9 L763.5,545.0 L764.5,545.3 L765.5,545.8 L766.5,546.5 L767.5,547.4 L768.5,548.6 L769.5,549.9 L770.5,551.4 L771.5,553.0 L772.5,554.8 L773.5,556.8 L774.5,558.8 L775.5,560.9 L776.5,563.2 L777.5,565.5 L778.5,567.8 L779.5,570.2 L780.5,572.6 L781.5,574.9 L782.5,577.3 L783.5,579.7 L784.5,582.0 L785.5,584.2 L786.5,586.4 L787.5,588.5 L788.5,590.5 L789.5,592.4 L790.5,594.3 L791.5,596.1 L792.5,597.7 L793.5,599.3 L794.5,600.7 L795.5,602.1 L796.5,603.4 L797.5,604.5 L798.5,605.6 L799.5,606.6 L800.5,607.5 L801.5,608.4 L802.5,609.1 L803.5,609.8 L804.5,610.4 L805.5,611.0 L806.5,611.5 L807.5,611.9 L808.5,612.3 L809.5,612.7 L810.5,613.0 L811.5,613.3 L812.5,613.5 L813.5,613.8 L814.5,613.9 L815.5,614.1 L816.5,614.3 L817.5,614.4 L818.5,614.5 L819.5,614.6 L820.5,614.7 L821.5,614.8 L822.4,614.9 L823.4,614.9 L824.4,615.0 L825.4,615.1 L826.4,615.1 L827.4,615.2 L828.4,615.2 L829.4,615.2 L830.4,615.3 L831.4,615.3 L832.4,615.3 L833.4,615.4 L834.4,615.4 L835.4,615.4 L836.4,615.5 L837.4,615.5 L838.4,615.5 L839.4,615.6 L840.4,615.6" stroke-width="2.70"/>
<path d="M535.7,605.2 L536.7,605.1 L537.7,605.0 L538.7,605.0 L539.7,604.9 L540.7,604.8 L541.7,604.7 L542.7,604.6 L543.7,604.5 L544.7,604.4 L545.7,604.2 L546.7,604.1 L547.7,604.0 L548.7,603.9 L549.7,603.8 L550.7,603.6 L551.7,603.5 L552.7,603.4 L553.7,603.2 L554.7,603.1 L555.7,603.0 L556.7,602.8 L557.7,602.7 L558.7,602.6 L559.7,602.4 L560.7,602.3 L561.7,602.2 L562.7,602.0 L563.7,601.9 L564.7,601.8 L565.7,601.6 L566.7,601.5 L567.7,601.4 L568.7,601.3 L569.7,601.2 L570.7,601.0 L571.7,600.9 L572.7,600.8 L573.7,600.8 L574.7,600.7 L575.7,600.6 L576.7,600.5 L577.7,600.5 L578.7,600.4 L579.7,600.4 L580.7,600.3 L581.7,600.3 L582.7,600.3 L583.7,600.2 L584.7,600.2 L585.7,600.2 L586.7,600.2 L587.7,600.3 L588.7,600.3 L589.7,600.3 L590.7,600.4 L591.7,600.5 L592.7,600.5 L593.6,600.6 L594.6,600.7 L595.6,600.8 L596.6,600.9 L597.6,601.1 L598.6,601.2 L599.6,601.3 L600.6,601.5 L601.6,601.6 L602.6,601.8 L603.6,602.0 L604.6,602.2 L605.6,602.3 L606.6,602.5 L607.6,602.7 L608.6,602.9 L609.6,603.1 L610.6,603.3 L611.6,603.6 L612.6,603.8 L613.6,604.0 L614.6,604.2 L615.6,604.4 L616.6,604.6 L617.6,604.8 L618.6,605.0 L619.6,605.2 L620.6,605.4 L621.6,605.6 L622.6,605.8 L623.6,606.0 L624.6,606.2 L625.6,606.4 L626.6,606.6 L627.6,606.8 L628.6,607.0 L629.6,607.2 L630.6,607.3 L631.6,607.5 L632.6,607.6 L633.6,607.8 L634.6,607.9 L635.6,608.1 L636.6,608.2 L637.6,608.4 L638.6,608.5 L639.6,608.6 L640.6,608.7 L641.6,608.8 L642.6,609.0 L643.6,609.1 L644.6,609.2 L645.6,609.3 L646.6,609.4 L647.6,609.4 L648.6,609.5 L649.6,609.6 L650.6,609.7 L651.6,609.8 L652.6,609.8 L653.6,609.9 L654.6,610.0 L655.6,610.0 L656.6,610.1 L657.6,610.1 L658.6,610.2 L659.6,610.3 L660.6,610.3 L661.6,610.4 L662.6,610.4 L663.6,610.4 L664.6,610.5 L665.6,610.5 L666.6,610.6 L667.6,610.6 L668.6,610.7 L669.6,610.7 L670.6,610.7 L671.6,610.8 L672.6,610.8 L673.6,610.8 L674.6,610.9 L675.6,610.9 L676.6,610.9 L677.6,611.0 L678.6,611.0 L679.6,611.0 L680.6,611.1 L681.6,611.1 L682.6,611.1 L683.6,611.2 L684.6,611.2 L685.6,611.2 L686.6,611.2 L687.6,611.3 L688.6,611.3 L689.6,611.3 L690.6,611.4 L691.6,611.4 L692.6,611.4 L693.6,611.5 L694.6,611.5 L695.6,611.5 L696.6,611.5 L697.6,611.6 L698.6,611.6 L699.6,611.6 L700.6,611.7 L701.6,611.7 L702.6,611.7 L703.6,611.7 L704.6,611.8 L705.6,611.8 L706.6,611.8 L707.5,611.8 L708.5,611.9 L709.5,611.9 L710.5,611.9 L711.5,612.0 L712.5,612.0 L713.5,612.0" stroke-width="2.70"/>
<path d="M535.7,606.9 L536.7,606.7 L537.7,606.5 L538.7,606.2 L539.7,606.0 L540.7,605.7 L541.7,605.5 L542.7,605.2 L543.7,605.0 L544.7,604.7 L545.7,604.5 L546.7,604.2 L547.7,604.0 L548.7,603.8 L549.7,603.5 L550.7,603.3 L551.7,603.1 L552.7,602.9 L553.7,602.7 L554.7,602.5 L555.7,602.3 L556.7,602.1 L557.7,602.0 L558.7,601.8 L559.7,601.6 L560.7,601.5 L561.7,601.3 L562.7,601.2 L563.7,601.0 L564.7,600.9 L565.7,600.7 L566.7,600.6 L567.7,600.5 L568.7,600.3 L569.7,600.2 L570.7,600.1 L571.7,600.0 L572.7,599.9 L573.7,599.8 L574.7,599.7 L575.7,599.6 L576.7,599.5 L577.7,599.4 L578.7,599.4 L579.7,599.3 L580.7,599.2 L581.7,599.1 L582.7,599.1 L583.7,599.0 L584.7,598.9 L585.7,598.9 L586.7,598.8 L587.7,598.7 L588.7,598.6 L589.7,598.5 L590.7,598.5 L591.7,598.4 L592.7,598.3 L593.6,598.2 L594.6,598.1 L595.6,598.0 L596.6,597.9 L597.6,597.8 L598.6,597.7 L599.6,597.6 L600.6,597.5 L601.6,597.3 L602.6,597.1 L603.6,596.9 L604.6,596.7 L605.6,596.4 L606.6,596.1 L607.6,595.8 L608.6,595.4 L609.6,595.0 L610.6,594.5 L611.6,593.9 L612.6,593.4 L613.6,592.8 L614.6,592.1 L615.6,591.4 L616.6,590.7 L617.6,589.9 L618.6,589.0 L619.6,588.0 L620.6,587.0 L621.6,585.8 L622.6,584.4 L623.6,582.9 L624.6,581.3 L625.6,579.6 L626.6,577.7 L627.6,575.8 L628.6,573.8 L629.6,571.8 L630.6,569.8 L631.6,567.8 L632.6,565.8 L633.6,563.8 L634.6,561.8 L635.6,559.8 L636.6,557.6 L637.6,555.5 L638.6,553.2 L639.6,550.8 L640.6,548.3 L641.6,545.7 L642.6,542.9 L643.6,539.9 L644.6,536.7 L645.6,533.3 L646.6,529.7 L647.6,526.1 L648.6,522.5 L649.6,518.9 L650.6,515.3 L651.6,511.8 L652.6,508.5 L653.6,505.3 L654.6,502.2 L655.6,499.2 L656.6,496.3 L657.6,493.5 L658.6,490.7 L659.6,488.1 L660.6,485.6 L661.6,483.4 L662.6,481.3 L663.6,479.5 L664.6,477.8 L665.6,476.3 L666.6,474.9 L667.6,473.6 L668.6,472.3 L669.6,471.1 L670.6,470.0 L671.6,468.9 L672.6,467.8 L673.6,466.8 L674.6,465.9 L675.6,465.1 L676.6,464.3 L677.6,463.7 L678.6,463.0 L679.6,462.5 L680.6,461.9 L681.6,461.4 L682.6,460.9 L683.6,460.4 L684.6,459.9 L685.6,459.3 L686.6,458.8 L687.6,458.3 L688.6,457.9 L689.6,457.4 L690.6,457.0 L691.6,456.7 L692.6,456.3 L693.6,456.0 L694.6,455.7 L695.6,455.4 L696.6,455.1 L697.6,454.8 L698.6,454.5 L699.6,454.3 L700.6,454.2 L701.6,454.2 L702.6,454.3 L703.6,454.6 L704.6,454.9 L705.6,455.4 L706.6,456.0 L707.5,456.7 L708.5,457.6 L709.5,458.6 L710.5,459.8 L711.5,461.1 L712.5,462.5 L713.5,464.0 L714.5,465.6 L715.5,467.4 L716.5,469.3 L717.5,471.2 L718.5,473.2 L719.5,475.0 L720.5,476.9 L721.5,478.7 L722.5,480.6 L723.5,482.6 L724.5,484.6 L725.5,486.6 L726.5,488.7 L727.5,490.7 L728.5,492.6 L729.5,494.6 L730.5,496.5 L731.5,498.5 L732.5,500.5 L733.5,502.5 L734.5,504.6 L735.5,506.8 L736.5,508.9 L737.5,510.9 L738.5,512.7 L739.5,514.3 L740.5,515.5 L741.5,516.3 L742.5,517.0 L743.5,517.4 L744.5,517.7 L745.5,517.9 L746.5,518.1 L747.5,518.2 L748.5,518.4 L749.5,518.6 L750.5,518.7 L751.5,518.9 L752.5,519.0 L753.5,519.2 L754.5,519.4 L755.5,519.6 L756.5,519.9 L757.5,520.3 L758.5,520.8 L759.5,521.5 L760.5,522.2 L761.5,523.1 L762.5,524.2 L763.5,525.3 L764.5,526.7 L765.5,528.1 L766.5,529.7 L767.5,531.4 L768.5,533.3 L769.5,535.3 L770.5,537.4 L771.5,539.6 L772.5,541.9 L773.5,544.4 L774.5,546.9 L775.5,549.5 L776.5,552.1 L777.5,554.8 L778.5,557.5 L779.5,560.2 L780.5,563.0 L781.5,565.7 L782.5,568.4 L783.5,571.1 L784.5,573.7 L785.5,576.3 L786.5,578.8 L787.5,581.2 L788.5,583.5 L789.5,585.8 L790.5,588.0 L791.5,590.0 L792.5,592.0 L793.5,593.9 L794.5,595.7 L795.5,597.3 L796.5,598.9 L797.5,600.4 L798.5,601.7 L799.5,603.0 L800.5,604.2 L801.5,605.3 L802.5,606.3 L803.5,607.2 L804.5,608.1 L805.5,608.8 L806.5,609.5 L807.5,610.2 L808.5,610.7 L809.5,611.2 L810.5,611.7 L811.5,612.1 L812.5,612.5 L813.5,612.8 L814.5,613.1 L815.5,613.4 L816.5,613.6 L817.5,613.9 L818.5,614.0 L819.5,614.2 L820.5,614.3 L821.5,614.5 L822.4,614.6 L823.4,614.7 L824.4,614.8 L825.4,614.9 L826.4,615.0 L827.4,615.0 L828.4,615.1 L829.4,615.2 L830.4,615.2 L831.4,615.3 L832.4,615.3 L833.4,615.3 L834.4,615.4 L835.4,615.4 L836.4,615.4 L837.4,615.5 L838.4,615.5 L839.4,615.5 L840.4,615.6 L841.4,615.6 L842.4,615.6 L843.4,615.7 L844.4,615.7 L845.4,615.7 L846.4,615.8 L847.4,615.8 L848.4,615.8 L849.4,615.9 L850.4,615.9 L851.4,615.9 L852.4,615.9 L853.4,616.0 L854.4,616.0 L855.4,616.0 L856.4,616.0 L857.4,616.1 L858.4,616.1 L859.4,616.1 L860.4,616.1 L861.4,616.1 L862.4,616.2 L863.4,616.2 L864.4,616.3 L865.4,616.3 L866.4,616.3 L867.4,616.4 L868.4,616.4 L869.4,616.4 L870.4,616.4 L871.4,616.5 L872.4,616.5 L873.4,616.5 L874.4,616.6 L875.4,616.6 L876.4,616.6 L877.4,616.6 L878.4,616.7 L879.4,616.7" stroke-width="4.30"/>
</g>
<path d="M852.0,615.6 L858.0,616.6 L862.0,617.6 L865.0,616.6 L868.0,614.0 L870.9,612.4 L873.5,613.6 L876.0,615.8 L879.0,616.6" fill="none" stroke="#000" stroke-width="3.4" stroke-linejoin="round" stroke-linecap="round"/>
<circle cx="691.1" cy="459.6" r="1.8" fill="#000"/>
<circle cx="702.3" cy="453.7" r="1.8" fill="#000"/>
<circle cx="714.9" cy="466.4" r="1.8" fill="#000"/>
<circle cx="738.7" cy="516.9" r="1.8" fill="#000"/>
<circle cx="751.5" cy="517.5" r="1.8" fill="#000"/>
<circle cx="799.3" cy="598.2" r="1.8" fill="#000"/>
<circle cx="814.0" cy="607.4" r="1.8" fill="#000"/>
<circle cx="830.4" cy="611.7" r="1.8" fill="#000"/>
<circle cx="848.3" cy="614.0" r="1.8" fill="#000"/>
<g fill="none" stroke="#000" stroke-linejoin="round" stroke-linecap="butt">
<path d="M661.0,720.5 L1007.5,729.5" stroke-width="3.60"/>
<path d="M710.1,721.8 L711.1,721.8 L712.1,721.8 L713.1,721.8 L714.1,721.9 L715.1,721.9 L716.1,721.9 L717.1,721.9 L718.1,722.0 L719.1,722.0 L720.1,722.0 L721.1,722.0 L722.1,722.0 L723.1,722.0 L724.1,722.1 L725.1,722.1 L726.1,722.1 L727.1,722.1 L728.1,722.1 L729.1,722.1 L730.1,722.1 L731.1,722.1 L732.1,722.1 L733.1,722.0 L734.1,722.0 L735.1,722.0 L736.1,721.9 L737.1,721.9 L738.1,721.8 L739.1,721.7 L740.1,721.6 L741.1,721.5 L742.1,721.4 L743.1,721.3 L744.1,721.1 L745.1,720.9 L746.1,720.7 L747.1,720.4 L748.1,720.2 L749.1,719.9 L750.1,719.5 L751.1,719.1 L752.1,718.7 L753.1,718.2 L754.1,717.7 L755.1,717.1 L756.1,716.5 L757.1,715.8 L758.1,715.0 L759.1,714.2 L760.1,713.3 L761.1,712.3 L762.1,711.2 L763.1,710.1 L764.1,708.9 L765.2,707.5 L766.2,706.1 L767.2,704.6 L768.2,702.9 L769.2,701.2 L770.2,699.4 L771.2,697.4 L772.2,695.4 L773.2,693.2 L774.2,690.9 L775.2,688.5 L776.2,686.0 L777.2,683.4 L778.2,680.7 L779.2,677.9 L780.2,675.0 L781.2,672.0 L782.2,668.9 L783.2,665.8 L784.2,662.6 L785.2,659.3 L786.2,655.9 L787.2,652.6 L788.2,649.2 L789.2,645.8 L790.2,642.3 L791.2,638.9 L792.2,635.5 L793.2,632.2 L794.2,628.9 L795.2,625.7 L796.2,622.5 L797.2,619.5 L798.2,616.5 L799.2,613.7 L800.2,611.0 L801.2,608.5 L802.2,606.1 L803.2,603.9 L804.2,601.9 L805.2,600.1 L806.2,598.6 L807.2,597.2 L808.2,596.1 L809.2,595.2 L810.2,594.5 L811.2,594.1 L812.2,593.9 L813.2,594.0 L814.2,594.3 L815.2,594.8 L816.2,595.5 L817.2,596.5 L818.2,597.6 L819.2,598.9 L820.2,600.5 L821.2,602.2 L822.2,604.1 L823.2,606.2 L824.2,608.4 L825.2,610.8 L826.2,613.3 L827.2,615.9 L828.2,618.7 L829.2,621.5 L830.2,624.5 L831.2,627.5 L832.2,630.6 L833.2,633.8 L834.2,637.0 L835.3,640.2 L836.3,643.5 L837.3,646.7 L838.3,650.0 L839.3,653.3 L840.3,656.5 L841.3,659.7 L842.3,662.8 L843.3,665.9 L844.3,668.9 L845.3,671.9 L846.3,674.8 L847.3,677.7 L848.3,680.4 L849.3,683.1 L850.3,685.7 L851.3,688.1 L852.3,690.5 L853.3,692.8 L854.3,695.0 L855.3,697.1 L856.3,699.1 L857.3,701.0 L858.3,702.9 L859.3,704.6 L860.3,706.2 L861.3,707.7 L862.3,709.2 L863.3,710.5 L864.3,711.8 L865.3,713.0 L866.3,714.1 L867.3,715.2 L868.3,716.1 L869.3,717.0 L870.3,717.9 L871.3,718.6 L872.3,719.4 L873.3,720.0 L874.3,720.6 L875.3,721.2 L876.3,721.7 L877.3,722.2 L878.3,722.6 L879.3,723.0 L880.3,723.4 L881.3,723.7 L882.3,724.0 L883.3,724.3 L884.3,724.5 L885.3,724.8 L886.3,725.0 L887.3,725.1 L888.3,725.3 L889.3,725.5 L890.3,725.6 L891.3,725.7 L892.3,725.9 L893.3,726.0 L894.3,726.1 L895.3,726.2 L896.3,726.2 L897.3,726.3 L898.3,726.4 L899.3,726.4 L900.3,726.5 L901.3,726.6 L902.3,726.6 L903.3,726.7 L904.4,726.7 L905.4,726.7 L906.4,726.8 L907.4,726.8 L908.4,726.9 L909.4,726.9 L910.4,726.9 L911.4,727.0 L912.4,727.0 L913.4,727.0 L914.4,727.1 L915.4,727.1" stroke-width="2.20"/>
<path d="M661.0,719.8 L662.0,719.8 L663.0,719.8 L664.0,719.8 L665.0,719.8 L666.0,719.8 L667.0,719.9 L668.0,719.9 L669.0,719.9 L670.0,719.9 L671.0,719.9 L672.0,720.0 L673.0,720.0 L674.0,720.0 L675.0,720.0 L676.0,720.0 L677.0,720.0 L678.0,720.1 L679.0,720.1 L680.0,720.1 L681.0,720.1 L682.0,720.1 L683.0,720.1 L684.0,720.1 L685.0,720.2 L686.0,720.2 L687.0,720.2 L688.0,720.2 L689.0,720.2 L690.0,720.2 L691.0,720.2 L692.0,720.3 L693.0,720.3 L694.0,720.3 L695.0,720.3 L696.1,720.3 L697.1,720.3 L698.1,720.3 L699.1,720.3 L700.1,720.4 L701.1,720.4 L702.1,720.4 L703.1,720.4 L704.1,720.4 L705.1,720.4 L706.1,720.4 L707.1,720.4 L708.1,720.4 L709.1,720.4 L710.1,720.5 L711.1,720.5 L712.1,720.5 L713.1,720.5 L714.1,720.5 L715.1,720.5 L716.1,720.5 L717.1,720.5 L718.1,720.5 L719.1,720.5 L720.1,720.5 L721.1,720.5 L722.1,720.5 L723.1,720.5 L724.1,720.5 L725.1,720.5 L726.1,720.5 L727.1,720.5 L728.1,720.5 L729.1,720.5 L730.1,720.5 L731.1,720.5 L732.1,720.5 L733.1,720.5 L734.1,720.5 L735.1,720.5 L736.1,720.5 L737.1,720.5 L738.1,720.5 L739.1,720.5 L740.1,720.4 L741.1,720.4 L742.1,720.4 L743.1,720.4 L744.1,720.4 L745.1,720.3 L746.1,720.3 L747.1,720.3 L748.1,720.2 L749.1,720.2 L750.1,720.1 L751.1,720.1 L752.1,720.0 L753.1,720.0 L754.1,719.9 L755.1,719.9 L756.1,719.8 L757.1,719.7 L758.1,719.6 L759.1,719.5 L760.1,719.4 L761.1,719.2 L762.1,719.1 L763.1,718.9 L764.1,718.8 L765.2,718.6 L766.2,718.4 L767.2,718.1 L768.2,717.9 L769.2,717.6 L770.2,717.3 L771.2,717.0 L772.2,716.6 L773.2,716.2 L774.2,715.8 L775.2,715.3 L776.2,714.8 L777.2,714.3 L778.2,713.7 L779.2,713.0 L780.2,712.3 L781.2,711.6 L782.2,710.8 L783.2,709.9 L784.2,708.9 L785.2,707.9 L786.2,706.8 L787.2,705.6 L788.2,704.4 L789.2,703.0 L790.2,701.6 L791.2,700.1 L792.2,698.4 L793.2,696.7 L794.2,694.9 L795.2,692.9 L796.2,690.9 L797.2,688.7 L798.2,686.4 L799.2,683.9 L800.2,681.4 L801.2,678.7 L802.2,675.9 L803.2,673.0 L804.2,669.9 L805.2,666.7 L806.2,663.4 L807.2,659.9 L808.2,656.3 L809.2,652.6 L810.2,648.8 L811.2,644.8 L812.2,640.8 L813.2,636.6 L814.2,632.3 L815.2,627.9 L816.2,623.4 L817.2,618.8 L818.2,614.1 L819.2,609.4 L820.2,604.6 L821.2,599.7 L822.2,594.9 L823.2,589.9 L824.2,585.0 L825.2,580.1 L826.2,575.2 L827.2,570.3 L828.2,565.4 L829.2,560.6 L830.2,555.9 L831.2,551.2 L832.2,546.7 L833.2,542.3 L834.2,538.0 L835.3,533.8 L836.3,529.9 L837.3,526.1 L838.3,522.5 L839.3,519.1 L840.3,516.0 L841.3,513.1 L842.3,510.4 L843.3,508.1 L844.3,506.0 L845.3,504.2 L846.3,502.7 L847.3,501.5 L848.3,500.7 L849.3,500.1 L850.3,499.9 L851.3,500.0 L852.3,500.5 L853.3,501.2 L854.3,502.3 L855.3,503.7 L856.3,505.3 L857.3,507.3 L858.3,509.5 L859.3,512.0 L860.3,514.8 L861.3,517.8 L862.3,521.1 L863.3,524.6 L864.3,528.3 L865.3,532.1 L866.3,536.2 L867.3,540.4 L868.3,544.7 L869.3,549.2 L870.3,553.8 L871.3,558.5 L872.3,563.2 L873.3,568.0 L874.3,572.9 L875.3,577.8 L876.3,582.7 L877.3,587.7 L878.3,592.6 L879.3,597.5 L880.3,602.4 L881.3,607.2 L882.3,612.0 L883.3,616.7 L884.3,621.3 L885.3,625.9 L886.3,630.4 L887.3,634.8 L888.3,639.1 L889.3,643.3 L890.3,647.3 L891.3,651.3 L892.3,655.1 L893.3,658.8 L894.3,662.4 L895.3,665.9 L896.3,669.2 L897.3,672.4 L898.3,675.5 L899.3,678.5 L900.3,681.3 L901.3,684.0 L902.3,686.6 L903.3,689.0 L904.4,691.4 L905.4,693.6 L906.4,695.7 L907.4,697.7 L908.4,699.5 L909.4,701.3 L910.4,703.0 L911.4,704.6 L912.4,706.1 L913.4,707.4 L914.4,708.8 L915.4,710.0 L916.4,711.1 L917.4,712.2 L918.4,713.2 L919.4,714.1 L920.4,715.0 L921.4,715.8 L922.4,716.6 L923.4,717.3 L924.4,717.9 L925.4,718.5 L926.4,719.1 L927.4,719.6 L928.4,720.1 L929.4,720.6 L930.4,721.0 L931.4,721.4 L932.4,721.7 L933.4,722.1 L934.4,722.4 L935.4,722.7 L936.4,722.9 L937.4,723.2 L938.4,723.4 L939.4,723.6 L940.4,723.8 L941.4,724.0 L942.4,724.2 L943.4,724.3 L944.4,724.5 L945.4,724.6 L946.4,724.8 L947.4,724.9 L948.4,725.0 L949.4,725.1 L950.4,725.2 L951.4,725.3 L952.4,725.4 L953.4,725.5 L954.4,725.6 L955.4,725.7 L956.4,725.8 L957.4,725.9 L958.4,725.9 L959.4,726.0 L960.4,726.1 L961.4,726.2 L962.4,726.2 L963.4,726.3 L964.4,726.4 L965.4,726.4 L966.4,726.5 L967.4,726.5 L968.4,726.6 L969.4,726.7 L970.4,726.7 L971.4,726.8 L972.4,726.8 L973.5,726.9 L974.5,726.9 L975.5,727.0 L976.5,727.0 L977.5,727.1 L978.5,727.1 L979.5,727.2 L980.5,727.2 L981.5,727.3 L982.5,727.3 L983.5,727.4 L984.5,727.4 L985.5,727.5 L986.5,727.5 L987.5,727.6 L988.5,727.6 L989.5,727.7 L990.5,727.7 L991.5,727.7 L992.5,727.8 L993.5,727.8 L994.5,727.9 L995.5,727.9 L996.5,728.0 L997.5,728.0 L998.5,728.0 L999.5,728.1 L1000.5,728.1 L1001.5,728.2 L1002.5,728.2 L1003.5,728.3 L1004.5,728.3 L1005.5,728.3 L1006.5,728.4 L1007.5,728.4" stroke-width="2.20"/>
<path d="M792.2,723.9 L793.2,723.9 L794.2,723.9 L795.2,724.0 L796.2,724.0 L797.2,724.0 L798.2,724.0 L799.2,724.0 L800.2,724.1 L801.2,724.1 L802.2,724.1 L803.2,724.1 L804.2,724.1 L805.2,724.1 L806.2,724.1 L807.2,724.1 L808.2,724.1 L809.2,724.1 L810.2,724.1 L811.2,724.1 L812.2,724.1 L813.2,724.0 L814.2,724.0 L815.2,724.0 L816.2,723.9 L817.2,723.8 L818.2,723.7 L819.2,723.7 L820.2,723.5 L821.2,723.4 L822.2,723.3 L823.2,723.1 L824.2,722.9 L825.2,722.7 L826.2,722.5 L827.2,722.2 L828.2,721.9 L829.2,721.6 L830.2,721.2 L831.2,720.8 L832.2,720.3 L833.2,719.8 L834.2,719.3 L835.3,718.7 L836.3,718.1 L837.3,717.4 L838.3,716.6 L839.3,715.8 L840.3,714.9 L841.3,714.0 L842.3,713.0 L843.3,711.9 L844.3,710.7 L845.3,709.5 L846.3,708.3 L847.3,706.9 L848.3,705.5 L849.3,704.0 L850.3,702.4 L851.3,700.8 L852.3,699.1 L853.3,697.4 L854.3,695.6 L855.3,693.7 L856.3,691.8 L857.3,689.8 L858.3,687.9 L859.3,685.8 L860.3,683.8 L861.3,681.7 L862.3,679.7 L863.3,677.6 L864.3,675.5 L865.3,673.5 L866.3,671.5 L867.3,669.5 L868.3,667.5 L869.3,665.7 L870.3,663.9 L871.3,662.1 L872.3,660.5 L873.3,658.9 L874.3,657.5 L875.3,656.2 L876.3,654.9 L877.3,653.9 L878.3,652.9 L879.3,652.1 L880.3,651.4 L881.3,650.9 L882.3,650.6 L883.3,650.3 L884.3,650.3 L885.3,650.4 L886.3,650.7 L887.3,651.1 L888.3,651.7 L889.3,652.4 L890.3,653.3 L891.3,654.3 L892.3,655.5 L893.3,656.7 L894.3,658.1 L895.3,659.7 L896.3,661.3 L897.3,663.0 L898.3,664.8 L899.3,666.7 L900.3,668.6 L901.3,670.6 L902.3,672.7 L903.3,674.7 L904.4,676.8 L905.4,679.0 L906.4,681.1 L907.4,683.2 L908.4,685.4 L909.4,687.5 L910.4,689.5 L911.4,691.6 L912.4,693.6 L913.4,695.6 L914.4,697.5 L915.4,699.3 L916.4,701.1 L917.4,702.9 L918.4,704.5 L919.4,706.1 L920.4,707.7 L921.4,709.1 L922.4,710.5 L923.4,711.8 L924.4,713.1 L925.4,714.3 L926.4,715.4 L927.4,716.4 L928.4,717.4 L929.4,718.3 L930.4,719.2 L931.4,720.0 L932.4,720.7 L933.4,721.4 L934.4,722.0 L935.4,722.6 L936.4,723.2 L937.4,723.7 L938.4,724.1 L939.4,724.5 L940.4,724.9 L941.4,725.2 L942.4,725.6 L943.4,725.8 L944.4,726.1 L945.4,726.3 L946.4,726.6 L947.4,726.7 L948.4,726.9 L949.4,727.1 L950.4,727.2 L951.4,727.3 L952.4,727.5 L953.4,727.6 L954.4,727.7 L955.4,727.8 L956.4,727.8 L957.4,727.9 L958.4,728.0 L959.4,728.0 L960.4,728.1 L961.4,728.1 L962.4,728.2 L963.4,728.2 L964.4,728.3 L965.4,728.3 L966.4,728.4 L967.4,728.4 L968.4,728.4 L969.4,728.5 L970.4,728.5 L971.4,728.5 L972.4,728.6 L973.5,728.6 L974.5,728.6 L975.5,728.7 L976.5,728.7" stroke-width="2.20"/>
<path d="M661.0,720.5 L662.0,720.5 L663.0,720.6 L664.0,720.6 L665.0,720.6 L666.0,720.6 L667.0,720.7 L668.0,720.7 L669.0,720.7 L670.0,720.7 L671.0,720.8 L672.0,720.8 L673.0,720.8 L674.0,720.8 L675.0,720.9 L676.0,720.9 L677.0,720.9 L678.0,720.9 L679.0,721.0 L680.0,721.0 L681.0,721.0 L682.0,721.0 L683.0,721.1 L684.0,721.1 L685.0,721.1 L686.0,721.1 L687.0,721.2 L688.0,721.2 L689.0,721.2 L690.0,721.3 L691.0,721.3 L692.0,721.3 L693.0,721.3 L694.0,721.2 L695.0,721.2 L696.1,721.1 L697.1,721.0 L698.1,721.0 L699.1,720.9 L700.1,720.9 L701.1,720.9 L702.1,720.9 L703.1,720.9 L704.1,720.9 L705.1,720.9 L706.1,720.9 L707.1,721.0 L708.1,721.0 L709.1,721.0 L710.1,721.0 L711.1,721.0 L712.1,721.1 L713.1,721.0 L714.1,721.0 L715.1,721.0 L716.1,720.9 L717.1,720.9 L718.1,720.8 L719.1,720.7 L720.1,720.5 L721.1,720.4 L722.1,720.2 L723.1,720.0 L724.1,719.8 L725.1,719.6 L726.1,719.4 L727.1,719.2 L728.1,719.0 L729.1,718.8 L730.1,718.6 L731.1,718.4 L732.1,718.2 L733.1,718.0 L734.1,717.8 L735.1,717.7 L736.1,717.5 L737.1,717.3 L738.1,717.1 L739.1,716.9 L740.1,716.6 L741.1,716.3 L742.1,716.0 L743.1,715.6 L744.1,715.2 L745.1,714.7 L746.1,714.2 L747.1,713.6 L748.1,713.0 L749.1,712.3 L750.1,711.5 L751.1,710.8 L752.1,709.9 L753.1,709.0 L754.1,708.1 L755.1,707.1 L756.1,706.0 L757.1,704.9 L758.1,703.7 L759.1,702.4 L760.1,701.1 L761.1,699.7 L762.1,698.2 L763.1,696.6 L764.1,694.9 L765.2,693.2 L766.2,691.3 L767.2,689.4 L768.2,687.2 L769.2,684.9 L770.2,682.4 L771.2,679.6 L772.2,676.8 L773.2,673.9 L774.2,671.3 L775.2,669.1 L776.2,667.3 L777.2,665.7 L778.2,663.5 L779.2,660.2 L780.2,655.2 L781.2,648.4 L782.2,641.3 L783.2,634.8 L784.2,629.0 L785.2,623.9 L786.2,619.2 L787.2,615.0 L788.2,611.1 L789.2,607.4 L790.2,603.9 L791.2,600.5 L792.2,597.1 L793.2,593.6 L794.2,590.0 L795.2,586.2 L796.2,582.2 L797.2,578.0 L798.2,573.6 L799.2,569.0 L800.2,564.2 L801.2,559.1 L802.2,553.7 L803.2,548.3 L804.2,542.9 L805.2,537.8 L806.2,533.1 L807.2,528.7 L808.2,524.5 L809.2,520.6 L810.2,516.8 L811.2,513.0 L812.2,509.4 L813.2,505.8 L814.2,502.2 L815.2,498.7 L816.2,495.2 L817.2,491.6 L818.2,488.1 L819.2,484.5 L820.2,480.9 L821.2,477.4 L822.2,474.0 L823.2,470.7 L824.2,467.5 L825.2,464.5 L826.2,461.6 L827.2,458.7 L828.2,455.8 L829.2,452.9 L830.2,450.1 L831.2,447.2 L832.2,444.5 L833.2,441.9 L834.2,439.4 L835.3,437.1 L836.3,434.9 L837.3,432.9 L838.3,431.1 L839.3,429.4 L840.3,427.9 L841.3,426.6 L842.3,425.4 L843.3,424.5 L844.3,423.8 L845.3,423.4 L846.3,423.3 L847.3,423.7 L848.3,424.3 L849.3,425.1 L850.3,426.0 L851.3,427.1 L852.3,428.5 L853.3,430.1 L854.3,432.1 L855.3,434.3 L856.3,436.8 L857.3,439.6 L858.3,442.5 L859.3,445.5 L860.3,448.6 L861.3,451.8 L862.3,455.1 L863.3,458.6 L864.3,462.1 L865.3,465.8 L866.3,469.6 L867.3,473.4 L868.3,477.2 L869.3,481.0 L870.3,484.8 L871.3,488.6 L872.3,492.5 L873.3,496.3 L874.3,500.1 L875.3,504.0 L876.3,507.9 L877.3,512.0 L878.3,516.3 L879.3,520.7 L880.3,525.3 L881.3,529.8 L882.3,534.3 L883.3,538.6 L884.3,542.8 L885.3,546.9 L886.3,550.9 L887.3,555.1 L888.3,559.3 L889.3,563.7 L890.3,568.3 L891.3,573.0 L892.3,577.8 L893.3,582.6 L894.3,587.4 L895.3,592.2 L896.3,597.1 L897.3,601.9 L898.3,606.7 L899.3,611.5 L900.3,616.4 L901.3,621.2 L902.3,625.9 L903.3,630.6 L904.4,635.3 L905.4,639.8 L906.4,644.2 L907.4,648.5 L908.4,652.6 L909.4,656.5 L910.4,660.2 L911.4,663.7 L912.4,667.0 L913.4,670.2 L914.4,673.3 L915.4,676.4 L916.4,679.5 L917.4,682.5 L918.4,685.4 L919.4,688.3 L920.4,691.0 L921.4,693.5 L922.4,695.8 L923.4,697.9 L924.4,699.8 L925.4,701.6 L926.4,703.2 L927.4,704.7 L928.4,706.1 L929.4,707.5 L930.4,708.8 L931.4,710.0 L932.4,711.2 L933.4,712.3 L934.4,713.3 L935.4,714.2 L936.4,715.1 L937.4,715.9 L938.4,716.7 L939.4,717.4 L940.4,718.1 L941.4,718.8 L942.4,719.5 L943.4,720.1 L944.4,720.7 L945.4,721.3 L946.4,721.8 L947.4,722.4 L948.4,722.8 L949.4,723.3 L950.4,723.7 L951.4,724.0 L952.4,724.4 L953.4,724.7 L954.4,725.0 L955.4,725.2 L956.4,725.5 L957.4,725.7 L958.4,726.0 L959.4,726.2 L960.4,726.4 L961.4,726.6 L962.4,726.7 L963.4,726.9 L964.4,727.0 L965.4,727.2 L966.4,727.3 L967.4,727.5 L968.4,727.6 L969.4,727.7 L970.4,727.8 L971.4,728.0 L972.4,728.1 L973.5,728.2 L974.5,728.3 L975.5,728.4 L976.5,728.4 L977.5,728.5 L978.5,728.6 L979.5,728.6 L980.5,728.7 L981.5,728.7 L982.5,728.8 L983.5,728.8 L984.5,728.8 L985.5,728.9 L986.5,728.9 L987.5,728.9 L988.5,728.9 L989.5,729.0 L990.5,729.0 L991.5,729.0 L992.5,729.0 L993.5,729.1 L994.5,729.1 L995.5,729.1 L996.5,729.2 L997.5,729.2 L998.5,729.3 L999.5,729.3 L1000.5,729.3 L1001.5,729.3 L1002.5,729.4 L1003.5,729.4 L1004.5,729.4 L1005.5,729.4 L1006.5,729.5 L1007.5,729.5" stroke-width="3.60"/>
</g>
<circle cx="674.0" cy="722.4" r="1.8" fill="#000"/>
<circle cx="690.2" cy="723.3" r="1.8" fill="#000"/>
<circle cx="706.9" cy="724.4" r="1.8" fill="#000"/>
<circle cx="722.2" cy="722.9" r="1.8" fill="#000"/>
<circle cx="845.5" cy="421.5" r="1.8" fill="#000"/>
<circle cx="833.0" cy="441.0" r="1.8" fill="#000"/>
<circle cx="937.5" cy="712.5" r="1.8" fill="#000"/>
<circle cx="953.5" cy="721.3" r="1.8" fill="#000"/>
<circle cx="1004.5" cy="731.5" r="1.8" fill="#000"/>
<text x="1.3" y="383.2" font-size="24.0" text-anchor="start" fill="#111" font-family="Liberation Sans, sans-serif" textLength="168.3" lengthAdjust="spacingAndGlyphs" >Mn/50Ti-N-WACF</text>
<text x="79.1" y="467.2" font-size="24.0" text-anchor="start" fill="#111" font-family="Liberation Sans, sans-serif" textLength="180.8" lengthAdjust="spacingAndGlyphs" >Mn/100Ti-N-WACF</text>
<text x="172.5" y="557.1" font-size="24.0" text-anchor="start" fill="#111" font-family="Liberation Sans, sans-serif" textLength="179.8" lengthAdjust="spacingAndGlyphs" >Mn/300Ti-N-WACF</text>
<text x="327.4" y="675.4" font-size="24.0" text-anchor="start" fill="#111" font-family="Liberation Sans, sans-serif" textLength="180.6" lengthAdjust="spacingAndGlyphs" >Mn/600Ti-N-WACF</text>
<text x="547.7" y="774.6" font-size="24.0" text-anchor="start" fill="#111" font-family="Liberation Sans, sans-serif" textLength="86.7" lengthAdjust="spacingAndGlyphs" >Ti-WACF</text>
<text x="745.8" y="811.7" font-size="26.5" text-anchor="start" fill="#111" font-family="Liberation Sans, sans-serif" textLength="204.0" lengthAdjust="spacingAndGlyphs" >Binding energy /eV</text>
<text transform="translate(84.3,244) rotate(-90)" font-size="28.2" fill="#111" font-family="Liberation Sans, sans-serif" textLength="151.3" lengthAdjust="spacingAndGlyphs">Intensity /cps</text>
<text x="166.9" y="174.4" font-size="21.0" text-anchor="start" fill="#111" font-family="Liberation Sans, sans-serif" textLength="58.2" lengthAdjust="spacingAndGlyphs" >Ti-O-N</text>
<text x="252.3" y="117.9" font-size="27.7" text-anchor="start" fill="#111" font-family="Liberation Sans, sans-serif" textLength="19.6" lengthAdjust="spacingAndGlyphs" >O</text>
<text x="272.0" y="126.8" font-size="16.2" text-anchor="start" fill="#111" font-family="Liberation Sans, sans-serif" textLength="17.4" lengthAdjust="spacingAndGlyphs" >ad</text>
<text x="369.5" y="66.5" font-size="27.7" text-anchor="start" fill="#111" font-family="Liberation Sans, sans-serif" textLength="19.6" lengthAdjust="spacingAndGlyphs" >O</text>
<text x="389.5" y="75.3" font-size="16.2" text-anchor="start" fill="#111" font-family="Liberation Sans, sans-serif" textLength="22.0" lengthAdjust="spacingAndGlyphs" >OH</text>
<text x="429.5" y="154.1" font-size="27.7" text-anchor="start" fill="#111" font-family="Liberation Sans, sans-serif" textLength="19.6" lengthAdjust="spacingAndGlyphs" >O</text>
<text x="450.2" y="163.9" font-size="16.2" text-anchor="start" fill="#111" font-family="Liberation Sans, sans-serif" textLength="7.5" lengthAdjust="spacingAndGlyphs" >L</text>
<g stroke="#111" stroke-width="1">
<line x1="193.6" y1="176.7" x2="210.0" y2="292.5"/>
<line x1="261.5" y1="132.4" x2="287.8" y2="234.4"/>
<line x1="375.7" y1="78.6" x2="342.6" y2="202.2"/>
<line x1="433.8" y1="162.2" x2="390.5" y2="266.2"/>
</g>
</svg>
</body></html>
